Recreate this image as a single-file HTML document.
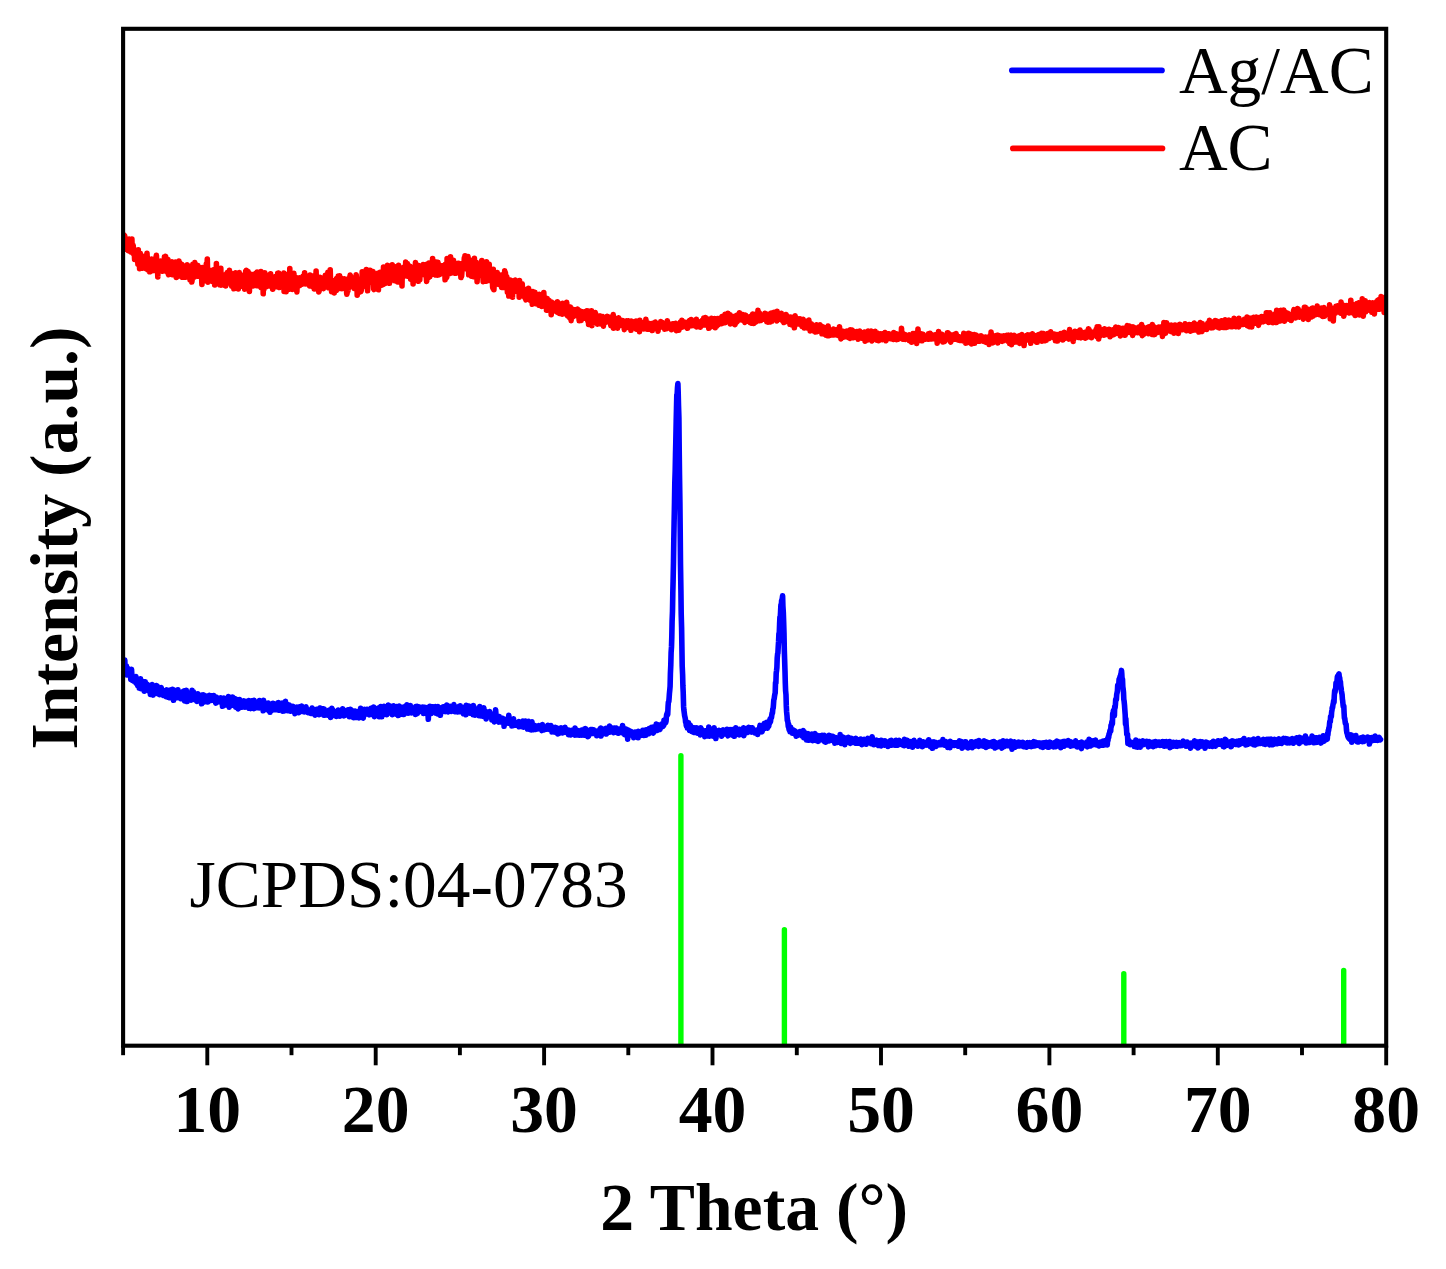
<!DOCTYPE html>
<html lang="en">
<head>
<meta charset="utf-8">
<title>XRD patterns of Ag/AC and AC</title>
<style>
html,body{margin:0;padding:0;background:#fff;}
body{width:1446px;height:1269px;overflow:hidden;}
svg{display:block;}
text{font-family:"Liberation Serif",serif;font-size:67.4px;fill:#000;}
.b text{font-weight:bold;font-size:67.7px;}
</style>
</head>
<body>
<svg width="1446" height="1269" viewBox="0 0 1446 1269">
<rect x="0" y="0" width="1446" height="1269" fill="#fff"/>
<g fill="none" stroke="#00ff00" stroke-width="5.4" stroke-linecap="round">
<path d="M680.9 1043.6V755.8"/><path d="M784.4 1043.6V929.8"/><path d="M1123.8 1043.6V973.7"/><path d="M1343.7 1043.6V970.4"/>
</g>
<defs><clipPath id="plotclip"><rect x="123.1" y="28.8" width="1263.1" height="1016.9"/></clipPath></defs>
<g clip-path="url(#plotclip)" fill="none" stroke-width="5.6" stroke-linejoin="round" stroke-linecap="round">
<path d="M123.1 237.0L123.4 239.3L123.8 237.3L124.1 235.0L124.4 238.0L124.8 236.1L125.1 242.0L125.5 249.1L125.8 240.6L126.1 240.6L126.5 246.8L126.8 246.7L127.1 246.0L127.5 241.4L127.8 246.4L128.2 250.6L128.5 240.9L128.8 245.8L129.2 239.1L129.5 242.6L129.8 240.2L130.2 248.6L130.5 243.9L130.8 252.0L131.2 251.8L131.5 250.4L131.9 239.1L132.2 249.3L132.5 252.1L132.9 253.2L133.2 245.3L133.5 250.9L133.9 248.7L134.2 249.9L134.6 259.5L134.9 250.5L135.2 254.6L135.6 259.5L135.9 252.5L136.2 255.1L136.6 256.5L136.9 256.6L137.2 250.4L137.6 257.3L137.9 264.0L138.3 249.7L138.6 262.1L138.9 258.6L139.3 255.1L139.6 268.6L139.9 262.7L140.3 253.2L140.6 259.8L141.0 262.6L141.3 259.1L141.6 263.7L142.0 260.2L142.3 264.1L142.6 268.2L143.0 257.9L143.3 262.5L143.6 259.4L144.0 262.6L144.3 256.2L144.7 259.4L145.0 261.5L145.3 267.2L145.7 268.6L146.0 256.4L146.3 259.2L146.7 266.5L147.0 253.4L147.4 261.2L147.7 263.1L148.0 270.0L148.4 267.3L148.7 262.3L149.0 262.2L149.4 262.8L149.7 271.8L150.0 262.1L150.4 262.8L150.7 266.2L151.1 263.9L151.4 263.6L151.7 259.1L152.1 264.7L152.4 262.6L152.7 270.7L153.1 268.2L153.4 264.9L153.8 268.4L154.1 263.4L154.4 270.4L154.8 265.2L155.1 268.2L155.4 258.9L155.8 267.1L156.1 257.0L156.4 255.3L156.8 264.0L157.1 261.1L157.5 266.5L157.8 276.9L158.1 261.6L158.5 262.7L158.8 266.9L159.1 268.4L159.5 265.1L159.8 265.0L160.2 269.5L160.5 268.7L160.8 261.0L161.2 265.8L161.5 266.4L161.8 261.0L162.2 267.6L162.5 262.1L162.8 271.3L163.2 267.4L163.5 267.0L163.9 263.6L164.2 266.0L164.5 256.7L164.9 261.1L165.2 268.6L165.5 256.2L165.9 271.2L166.2 258.3L166.6 270.8L166.9 262.9L167.2 271.1L167.6 267.9L167.9 259.6L168.2 273.6L168.6 274.7L168.9 267.2L169.2 266.2L169.6 266.9L169.9 262.9L170.3 273.3L170.6 265.2L170.9 267.7L171.3 264.1L171.6 265.0L171.9 261.8L172.3 274.6L172.6 267.6L173.0 273.2L173.3 268.6L173.6 265.1L174.0 267.0L174.3 265.9L174.6 268.8L175.0 267.0L175.3 267.5L175.6 262.1L176.0 265.1L176.3 277.5L176.7 265.9L177.0 264.1L177.3 271.1L177.7 276.5L178.0 262.3L178.3 268.6L178.7 266.6L179.0 261.0L179.4 273.6L179.7 269.9L180.0 270.4L180.4 266.4L180.7 272.5L181.0 267.6L181.4 269.7L181.7 264.9L182.0 264.5L182.4 277.3L182.7 268.2L183.1 272.2L183.4 270.7L183.7 268.7L184.1 268.5L184.4 274.2L184.7 269.6L185.1 270.5L185.4 271.4L185.7 277.3L186.1 274.9L186.4 273.4L186.8 268.8L187.1 264.8L187.4 276.5L187.8 276.7L188.1 271.2L188.4 274.7L188.8 275.9L189.1 276.3L189.5 276.8L189.8 270.0L190.1 279.9L190.5 266.1L190.8 276.7L191.1 275.0L191.5 276.9L191.8 282.0L192.1 280.1L192.5 267.0L192.8 264.4L193.2 277.0L193.5 267.9L193.8 272.9L194.2 277.3L194.5 264.9L194.8 262.6L195.2 274.5L195.5 273.5L195.9 272.1L196.2 273.6L196.5 269.2L196.9 266.0L197.2 272.8L197.5 268.8L197.9 265.5L198.2 276.3L198.5 273.5L198.9 275.9L199.2 269.0L199.6 270.7L199.9 269.1L200.2 269.7L200.6 275.2L200.9 270.3L201.2 276.1L201.6 276.1L201.9 284.5L202.3 267.5L202.6 279.0L202.9 274.1L203.3 274.6L203.6 267.5L203.9 272.5L204.3 278.5L204.6 274.5L204.9 275.3L205.3 273.5L205.6 280.8L206.0 275.0L206.3 264.1L206.6 271.7L207.0 265.4L207.3 259.1L207.6 272.7L208.0 282.1L208.3 275.7L208.7 269.7L209.0 270.9L209.3 281.3L209.7 276.5L210.0 276.0L210.3 275.5L210.7 276.0L211.0 279.9L211.3 278.7L211.7 277.1L212.0 270.8L212.4 278.6L212.7 272.7L213.0 281.7L213.4 269.9L213.7 275.6L214.0 276.3L214.4 269.8L214.7 285.0L215.1 283.8L215.4 274.2L215.7 280.4L216.1 278.5L216.4 263.6L216.7 278.0L217.1 276.5L217.4 277.2L217.7 271.5L218.1 275.6L218.4 276.1L218.8 282.9L219.1 278.7L219.4 277.0L219.8 284.8L220.1 274.4L220.4 275.3L220.8 268.2L221.1 285.1L221.5 282.2L221.8 282.0L222.1 280.8L222.5 278.0L222.8 278.6L223.1 276.3L223.5 276.6L223.8 277.9L224.1 285.2L224.5 280.5L224.8 277.4L225.2 274.9L225.5 274.6L225.8 285.9L226.2 280.4L226.5 278.3L226.8 276.2L227.2 272.5L227.5 277.7L227.9 282.4L228.2 276.2L228.5 277.0L228.9 277.1L229.2 278.8L229.5 270.3L229.9 277.1L230.2 274.1L230.5 282.8L230.9 274.6L231.2 281.3L231.6 286.1L231.9 277.0L232.2 275.5L232.6 279.5L232.9 278.6L233.2 273.7L233.6 281.0L233.9 288.8L234.3 277.5L234.6 277.8L234.9 273.6L235.3 280.5L235.6 272.7L235.9 273.4L236.3 285.4L236.6 274.5L236.9 284.4L237.3 286.7L237.6 280.4L238.0 281.9L238.3 288.9L238.6 278.2L239.0 276.3L239.3 272.5L239.6 279.5L240.0 286.7L240.3 284.2L240.7 274.7L241.0 275.2L241.3 276.9L241.7 281.0L242.0 278.5L242.3 280.6L242.7 281.1L243.0 278.1L243.3 279.4L243.7 280.7L244.0 279.3L244.4 282.3L244.7 289.1L245.0 282.8L245.4 280.1L245.7 271.4L246.0 281.8L246.4 270.2L246.7 272.9L247.1 284.2L247.4 283.5L247.7 279.3L248.1 271.5L248.4 278.2L248.7 276.7L249.1 283.3L249.4 291.5L249.7 281.3L250.1 276.3L250.4 274.4L250.8 280.0L251.1 279.4L251.4 274.6L251.8 280.9L252.1 274.6L252.4 286.0L252.8 285.7L253.1 285.9L253.5 278.1L253.8 283.1L254.1 279.9L254.5 278.6L254.8 278.9L255.1 274.1L255.5 273.4L255.8 284.6L256.1 279.7L256.5 281.8L256.8 285.7L257.2 272.1L257.5 276.9L257.8 281.7L258.2 282.8L258.5 279.0L258.8 286.0L259.2 281.9L259.5 274.8L259.9 276.3L260.2 285.0L260.5 283.3L260.9 271.5L261.2 287.8L261.5 284.0L261.9 287.8L262.2 279.2L262.5 279.6L262.9 275.5L263.2 293.8L263.6 280.3L263.9 289.1L264.2 278.0L264.6 282.0L264.9 272.9L265.2 279.3L265.6 286.2L265.9 275.0L266.3 286.7L266.6 283.0L266.9 276.1L267.3 278.9L267.6 279.1L267.9 281.2L268.3 278.8L268.6 277.3L268.9 280.0L269.3 276.4L269.6 275.1L270.0 281.3L270.3 286.0L270.6 273.9L271.0 281.6L271.3 278.4L271.6 276.7L272.0 285.9L272.3 279.1L272.7 289.1L273.0 277.8L273.3 283.6L273.7 280.6L274.0 278.0L274.3 284.7L274.7 281.0L275.0 284.8L275.3 281.6L275.7 276.4L276.0 281.3L276.4 282.1L276.7 286.6L277.0 277.4L277.4 281.7L277.7 273.4L278.0 285.2L278.4 276.6L278.7 273.0L279.1 281.7L279.4 287.5L279.7 274.4L280.1 276.6L280.4 278.3L280.7 276.4L281.1 283.9L281.4 278.1L281.7 278.5L282.1 285.0L282.4 278.4L282.8 284.3L283.1 277.3L283.4 276.2L283.8 273.1L284.1 291.4L284.4 280.6L284.8 283.4L285.1 282.1L285.5 283.0L285.8 282.5L286.1 291.7L286.5 277.2L286.8 274.6L287.1 277.3L287.5 275.7L287.8 286.0L288.1 286.4L288.5 277.6L288.8 275.5L289.2 280.7L289.5 289.3L289.8 268.5L290.2 285.0L290.5 277.2L290.8 287.6L291.2 277.2L291.5 281.1L291.9 275.1L292.2 277.7L292.5 289.4L292.9 286.6L293.2 280.6L293.5 278.3L293.9 273.3L294.2 280.7L294.5 282.5L294.9 282.2L295.2 282.2L295.6 277.2L295.9 282.4L296.2 282.5L296.6 289.1L296.9 291.9L297.2 282.1L297.6 279.0L297.9 282.5L298.2 279.8L298.6 279.2L298.9 282.5L299.3 277.7L299.6 285.8L299.9 282.4L300.3 284.1L300.6 282.0L300.9 279.3L301.3 278.3L301.6 281.8L302.0 280.3L302.3 284.1L302.6 283.0L303.0 276.3L303.3 283.3L303.6 276.4L304.0 280.0L304.3 281.6L304.6 272.9L305.0 283.5L305.3 283.8L305.7 282.3L306.0 281.0L306.3 281.3L306.7 278.3L307.0 281.8L307.3 280.4L307.7 283.6L308.0 277.3L308.4 284.3L308.7 283.9L309.0 282.5L309.4 281.1L309.7 285.9L310.0 275.1L310.4 285.5L310.7 284.4L311.0 284.6L311.4 285.1L311.7 280.1L312.1 282.0L312.4 286.4L312.7 285.4L313.1 284.3L313.4 275.9L313.7 285.9L314.1 289.0L314.4 288.3L314.8 284.5L315.1 275.7L315.4 287.9L315.8 282.6L316.1 271.0L316.4 285.2L316.8 276.1L317.1 277.0L317.4 280.3L317.8 289.6L318.1 281.6L318.5 284.7L318.8 291.9L319.1 291.2L319.5 282.9L319.8 282.2L320.1 277.2L320.5 280.0L320.8 285.5L321.2 285.3L321.5 283.9L321.8 288.2L322.2 279.6L322.5 283.1L322.8 287.0L323.2 286.2L323.5 288.6L323.8 285.3L324.2 281.9L324.5 285.2L324.9 278.5L325.2 275.4L325.5 286.2L325.9 283.1L326.2 284.9L326.5 275.1L326.9 281.6L327.2 280.5L327.6 279.2L327.9 272.4L328.2 281.8L328.6 287.8L328.9 285.2L329.2 280.5L329.6 283.3L329.9 287.1L330.2 269.9L330.6 282.8L330.9 286.0L331.3 286.7L331.6 291.7L331.9 288.9L332.3 284.9L332.6 284.8L332.9 287.2L333.3 280.7L333.6 283.2L334.0 287.8L334.3 292.9L334.6 282.6L335.0 283.1L335.3 284.3L335.6 289.9L336.0 283.2L336.3 290.5L336.6 278.6L337.0 282.4L337.3 282.4L337.7 287.2L338.0 288.4L338.3 276.0L338.7 278.9L339.0 285.0L339.3 280.1L339.7 275.9L340.0 288.4L340.4 285.7L340.7 285.7L341.0 281.0L341.4 288.3L341.7 282.1L342.0 288.6L342.4 278.8L342.7 279.1L343.0 284.3L343.4 279.8L343.7 286.6L344.1 284.5L344.4 278.8L344.7 283.6L345.1 281.5L345.4 287.7L345.7 280.2L346.1 281.1L346.4 289.2L346.8 294.2L347.1 293.0L347.4 283.5L347.8 284.3L348.1 290.7L348.4 282.6L348.8 278.4L349.1 283.8L349.4 285.4L349.8 279.1L350.1 275.1L350.5 276.1L350.8 286.4L351.1 279.4L351.5 282.4L351.8 284.1L352.1 286.1L352.5 281.4L352.8 285.5L353.2 278.6L353.5 281.2L353.8 277.9L354.2 288.5L354.5 282.8L354.8 279.2L355.2 281.1L355.5 281.7L355.8 286.2L356.2 274.9L356.5 277.6L356.9 280.8L357.2 295.1L357.5 287.3L357.9 282.0L358.2 286.0L358.5 292.6L358.9 281.2L359.2 280.5L359.6 288.3L359.9 284.7L360.2 285.5L360.6 279.6L360.9 291.6L361.2 290.5L361.6 284.8L361.9 285.3L362.2 271.8L362.6 285.0L362.9 280.8L363.3 283.8L363.6 285.0L363.9 279.9L364.3 273.1L364.6 283.3L364.9 277.7L365.3 279.7L365.6 278.2L366.0 279.5L366.3 269.6L366.6 287.2L367.0 282.3L367.3 286.5L367.6 290.8L368.0 280.9L368.3 271.8L368.6 276.2L369.0 274.6L369.3 278.1L369.7 280.9L370.0 270.4L370.3 282.1L370.7 272.8L371.0 281.8L371.3 279.7L371.7 278.6L372.0 279.7L372.4 277.3L372.7 276.9L373.0 271.5L373.4 279.6L373.7 288.9L374.0 289.5L374.4 286.2L374.7 283.0L375.0 276.0L375.4 286.5L375.7 278.9L376.1 278.8L376.4 277.6L376.7 279.4L377.1 276.6L377.4 278.3L377.7 273.2L378.1 276.7L378.4 289.8L378.8 278.0L379.1 277.0L379.4 280.8L379.8 281.5L380.1 272.3L380.4 276.8L380.8 282.3L381.1 278.9L381.4 278.1L381.8 285.2L382.1 273.9L382.5 277.6L382.8 274.5L383.1 284.4L383.5 267.1L383.8 273.4L384.1 274.0L384.5 279.9L384.8 279.5L385.2 283.4L385.5 268.4L385.8 280.0L386.2 274.7L386.5 272.7L386.8 278.6L387.2 271.3L387.5 265.4L387.8 273.9L388.2 268.1L388.5 272.3L388.9 277.3L389.2 277.0L389.5 283.3L389.9 274.3L390.2 267.5L390.5 271.4L390.9 270.5L391.2 268.9L391.6 277.1L391.9 271.7L392.2 264.9L392.6 278.2L392.9 274.1L393.2 276.4L393.6 275.1L393.9 277.7L394.2 274.6L394.6 280.6L394.9 276.5L395.3 276.2L395.6 276.3L395.9 266.9L396.3 273.3L396.6 272.8L396.9 275.0L397.3 267.1L397.6 282.0L398.0 274.3L398.3 267.7L398.6 265.2L399.0 272.3L399.3 273.2L399.6 270.0L400.0 274.0L400.3 270.2L400.6 276.2L401.0 269.7L401.3 273.1L401.7 278.1L402.0 286.0L402.3 268.1L402.7 270.8L403.0 268.8L403.3 276.9L403.7 267.2L404.0 270.5L404.4 272.7L404.7 267.9L405.0 268.0L405.4 270.3L405.7 262.1L406.0 265.4L406.4 270.5L406.7 273.2L407.0 271.5L407.4 263.5L407.7 270.0L408.1 276.3L408.4 275.0L408.7 271.8L409.1 267.7L409.4 275.3L409.7 269.2L410.1 266.2L410.4 268.0L410.7 279.2L411.1 273.0L411.4 277.6L411.8 269.4L412.1 276.4L412.4 268.7L412.8 270.9L413.1 284.0L413.4 275.4L413.8 269.0L414.1 271.0L414.5 273.0L414.8 277.4L415.1 268.9L415.5 262.6L415.8 269.8L416.1 271.3L416.5 271.7L416.8 277.7L417.1 272.6L417.5 275.1L417.8 265.4L418.2 275.2L418.5 281.3L418.8 274.7L419.2 272.0L419.5 271.5L419.8 279.6L420.2 266.0L420.5 270.0L420.9 272.9L421.2 274.2L421.5 268.3L421.9 272.0L422.2 269.0L422.5 270.9L422.9 269.6L423.2 264.6L423.5 270.1L423.9 274.6L424.2 265.3L424.6 268.9L424.9 273.4L425.2 264.7L425.6 270.9L425.9 264.6L426.2 275.6L426.6 281.4L426.9 279.9L427.3 268.7L427.6 273.5L427.9 270.3L428.3 270.2L428.6 277.4L428.9 263.0L429.3 274.9L429.6 269.3L429.9 276.6L430.3 270.4L430.6 266.1L431.0 270.8L431.3 273.1L431.6 269.5L432.0 271.8L432.3 266.7L432.6 258.6L433.0 273.8L433.3 272.7L433.7 269.9L434.0 269.5L434.3 274.3L434.7 266.8L435.0 265.6L435.3 268.1L435.7 275.0L436.0 262.1L436.3 275.0L436.7 265.8L437.0 263.4L437.4 275.2L437.7 268.4L438.0 262.4L438.4 267.1L438.7 273.5L439.0 274.8L439.4 266.7L439.7 270.8L440.1 272.3L440.4 265.5L440.7 270.5L441.1 268.5L441.4 266.0L441.7 266.2L442.1 269.0L442.4 268.8L442.7 265.8L443.1 266.5L443.4 274.1L443.8 269.6L444.1 273.0L444.4 274.5L444.8 271.5L445.1 279.8L445.4 264.3L445.8 272.5L446.1 266.9L446.5 277.7L446.8 276.9L447.1 258.6L447.5 263.5L447.8 271.7L448.1 272.3L448.5 272.0L448.8 267.9L449.1 270.6L449.5 271.5L449.8 267.9L450.2 273.4L450.5 256.9L450.8 271.4L451.2 263.0L451.5 273.0L451.8 267.0L452.2 263.7L452.5 270.0L452.9 263.5L453.2 263.5L453.5 260.2L453.9 267.9L454.2 270.5L454.5 273.1L454.9 267.2L455.2 273.2L455.5 268.0L455.9 267.4L456.2 270.7L456.6 273.1L456.9 266.1L457.2 266.6L457.6 267.0L457.9 268.2L458.2 263.2L458.6 272.8L458.9 265.7L459.3 269.9L459.6 263.5L459.9 269.4L460.3 269.5L460.6 265.4L460.9 277.5L461.3 269.2L461.6 276.2L461.9 272.1L462.3 263.9L462.6 265.3L463.0 269.3L463.3 267.4L463.6 267.3L464.0 265.6L464.3 258.0L464.6 265.8L465.0 255.8L465.3 268.8L465.7 263.2L466.0 263.3L466.3 265.7L466.7 268.2L467.0 259.6L467.3 258.1L467.7 261.5L468.0 256.6L468.3 262.0L468.7 274.8L469.0 261.6L469.4 270.2L469.7 260.1L470.0 268.5L470.4 265.5L470.7 266.9L471.0 270.1L471.4 276.1L471.7 268.4L472.1 268.1L472.4 262.7L472.7 270.6L473.1 266.6L473.4 272.1L473.7 267.8L474.1 276.8L474.4 258.3L474.7 266.9L475.1 272.9L475.4 266.9L475.8 264.8L476.1 267.6L476.4 262.2L476.8 269.8L477.1 281.6L477.4 275.2L477.8 264.1L478.1 265.5L478.5 268.0L478.8 275.2L479.1 266.2L479.5 267.0L479.8 275.1L480.1 275.1L480.5 269.1L480.8 265.6L481.1 263.6L481.5 268.0L481.8 260.5L482.2 275.6L482.5 268.8L482.8 274.5L483.2 281.7L483.5 278.3L483.8 266.9L484.2 277.1L484.5 278.7L484.9 269.4L485.2 268.5L485.5 272.9L485.9 265.6L486.2 281.1L486.5 261.9L486.9 268.5L487.2 272.8L487.5 273.2L487.9 275.3L488.2 275.9L488.6 273.7L488.9 280.5L489.2 264.3L489.6 275.1L489.9 271.7L490.2 276.1L490.6 276.7L490.9 271.2L491.3 272.7L491.6 280.0L491.9 277.9L492.3 272.9L492.6 286.7L492.9 288.2L493.3 269.4L493.6 278.4L493.9 289.6L494.3 281.1L494.6 278.5L495.0 276.5L495.3 275.0L495.6 276.8L496.0 275.2L496.3 281.8L496.6 276.3L497.0 276.2L497.3 272.6L497.7 278.5L498.0 274.4L498.3 278.2L498.7 284.4L499.0 281.2L499.3 282.1L499.7 281.5L500.0 280.1L500.3 279.4L500.7 278.6L501.0 284.1L501.4 275.1L501.7 287.4L502.0 281.0L502.4 277.2L502.7 278.7L503.0 277.9L503.4 282.3L503.7 278.1L504.1 287.5L504.4 278.1L504.7 270.9L505.1 278.7L505.4 272.5L505.7 282.4L506.1 288.0L506.4 286.1L506.7 276.6L507.1 279.6L507.4 292.1L507.8 285.2L508.1 283.8L508.4 289.1L508.8 296.0L509.1 290.6L509.4 285.2L509.8 286.4L510.1 287.8L510.5 282.1L510.8 280.2L511.1 285.7L511.5 281.1L511.8 285.5L512.1 286.4L512.5 297.2L512.8 282.4L513.1 286.0L513.5 286.0L513.8 289.0L514.2 292.0L514.5 285.0L514.8 283.7L515.2 280.1L515.5 283.6L515.8 290.6L516.2 288.5L516.5 283.9L516.9 287.0L517.2 289.0L517.5 291.4L517.9 286.6L518.2 288.4L518.5 281.5L518.9 284.7L519.2 297.3L519.5 280.5L519.9 289.0L520.2 291.6L520.6 289.2L520.9 287.5L521.2 291.0L521.6 291.4L521.9 291.3L522.2 283.7L522.6 291.4L522.9 288.5L523.3 290.1L523.6 293.6L523.9 295.6L524.3 296.8L524.6 291.1L524.9 297.3L525.3 298.5L525.6 298.6L525.9 299.8L526.3 293.5L526.6 293.6L527.0 297.9L527.3 289.0L527.6 295.7L528.0 292.8L528.3 293.7L528.6 288.2L529.0 291.9L529.3 295.6L529.6 299.5L530.0 300.1L530.3 295.9L530.7 295.6L531.0 293.2L531.3 298.3L531.7 295.9L532.0 299.5L532.3 304.2L532.7 297.2L533.0 291.5L533.4 294.2L533.7 292.0L534.0 293.2L534.4 303.2L534.7 299.1L535.0 292.3L535.4 301.1L535.7 303.6L536.0 297.4L536.4 296.3L536.7 297.7L537.1 300.3L537.4 301.8L537.7 304.1L538.1 304.3L538.4 304.3L538.7 305.1L539.1 302.5L539.4 294.3L539.8 299.8L540.1 301.6L540.4 299.1L540.8 304.1L541.1 299.4L541.4 297.4L541.8 306.5L542.1 303.7L542.4 302.1L542.8 304.9L543.1 305.5L543.5 303.0L543.8 292.6L544.1 299.4L544.5 300.4L544.8 298.5L545.1 303.0L545.5 306.8L545.8 300.8L546.2 298.5L546.5 310.3L546.8 301.3L547.2 298.5L547.5 304.0L547.8 304.8L548.2 300.9L548.5 306.4L548.8 301.9L549.2 300.5L549.5 304.6L549.9 306.8L550.2 301.9L550.5 305.5L550.9 304.1L551.2 314.6L551.5 302.1L551.9 309.7L552.2 304.7L552.6 304.6L552.9 307.7L553.2 308.4L553.6 309.9L553.9 306.7L554.2 303.6L554.6 303.9L554.9 307.7L555.2 308.1L555.6 311.0L555.9 307.8L556.3 310.1L556.6 311.8L556.9 307.3L557.3 301.7L557.6 302.9L557.9 302.2L558.3 312.6L558.6 304.5L559.0 311.7L559.3 309.6L559.6 313.5L560.0 311.3L560.3 307.7L560.6 307.5L561.0 308.6L561.3 309.0L561.6 306.8L562.0 308.6L562.3 314.2L562.7 303.4L563.0 310.0L563.3 306.3L563.7 310.0L564.0 312.3L564.3 309.5L564.7 312.3L565.0 304.8L565.4 313.6L565.7 308.3L566.0 312.3L566.4 311.1L566.7 302.4L567.0 308.3L567.4 311.6L567.7 315.9L568.0 312.0L568.4 312.1L568.7 307.0L569.1 316.0L569.4 317.3L569.7 311.9L570.1 311.2L570.4 307.0L570.7 314.9L571.1 320.6L571.4 314.6L571.8 316.4L572.1 314.3L572.4 309.8L572.8 317.0L573.1 309.3L573.4 312.5L573.8 314.1L574.1 316.0L574.4 314.7L574.8 314.7L575.1 311.4L575.5 309.9L575.8 314.1L576.1 311.9L576.5 310.2L576.8 310.5L577.1 312.9L577.5 309.0L577.8 310.6L578.2 309.8L578.5 315.3L578.8 316.0L579.2 320.8L579.5 310.6L579.8 313.1L580.2 317.8L580.5 314.6L580.8 314.4L581.2 320.4L581.5 314.6L581.9 312.3L582.2 311.9L582.5 316.7L582.9 316.7L583.2 312.0L583.5 313.2L583.9 317.6L584.2 317.8L584.6 314.4L584.9 318.1L585.2 318.1L585.6 311.5L585.9 315.7L586.2 317.8L586.6 315.1L586.9 310.8L587.2 316.1L587.6 319.1L587.9 321.5L588.3 311.0L588.6 324.5L588.9 314.1L589.3 320.0L589.6 320.8L589.9 320.2L590.3 318.0L590.6 314.4L591.0 319.4L591.3 315.8L591.6 310.9L592.0 325.7L592.3 319.9L592.6 323.0L593.0 315.6L593.3 322.2L593.6 322.6L594.0 322.5L594.3 318.3L594.7 315.2L595.0 318.0L595.3 312.6L595.7 314.1L596.0 319.0L596.3 316.1L596.7 318.4L597.0 318.6L597.4 324.1L597.7 322.5L598.0 319.0L598.4 322.4L598.7 317.1L599.0 318.4L599.4 321.7L599.7 316.1L600.0 318.7L600.4 316.0L600.7 319.9L601.1 323.9L601.4 317.7L601.7 320.3L602.1 317.5L602.4 316.9L602.7 316.7L603.1 323.8L603.4 326.2L603.8 321.3L604.1 318.3L604.4 322.0L604.8 319.4L605.1 322.4L605.4 321.1L605.8 321.2L606.1 322.1L606.4 319.0L606.8 319.6L607.1 316.2L607.5 319.6L607.8 317.1L608.1 320.4L608.5 318.4L608.8 321.2L609.1 322.1L609.5 317.4L609.8 319.0L610.2 318.7L610.5 323.1L610.8 325.6L611.2 323.5L611.5 320.5L611.8 325.1L612.2 317.6L612.5 325.3L612.8 319.9L613.2 314.6L613.5 328.3L613.9 325.7L614.2 319.2L614.5 322.2L614.9 321.3L615.2 322.2L615.5 318.3L615.9 320.3L616.2 323.2L616.6 322.7L616.9 325.1L617.2 322.4L617.6 328.1L617.9 320.5L618.2 323.0L618.6 317.7L618.9 319.4L619.2 325.8L619.6 320.2L619.9 323.9L620.3 322.5L620.6 320.1L620.9 321.9L621.3 321.5L621.6 321.6L621.9 324.7L622.3 324.5L622.6 321.5L623.0 320.8L623.3 323.7L623.6 322.8L624.0 325.6L624.3 329.6L624.6 325.2L625.0 323.1L625.3 322.9L625.6 321.2L626.0 321.2L626.3 321.0L626.7 322.5L627.0 322.4L627.3 325.3L627.7 322.6L628.0 323.1L628.3 320.7L628.7 327.6L629.0 324.9L629.4 328.0L629.7 325.6L630.0 327.3L630.4 323.2L630.7 325.5L631.0 330.3L631.4 321.0L631.7 326.7L632.0 328.0L632.4 325.0L632.7 325.9L633.1 327.1L633.4 322.5L633.7 325.1L634.1 322.1L634.4 322.6L634.7 322.8L635.1 324.0L635.4 324.7L635.8 325.5L636.1 321.0L636.4 329.2L636.8 327.2L637.1 326.3L637.4 323.7L637.8 324.4L638.1 325.9L638.4 325.6L638.8 320.7L639.1 326.5L639.5 331.7L639.8 320.4L640.1 327.2L640.5 325.7L640.8 324.6L641.1 328.2L641.5 322.2L641.8 325.4L642.1 328.5L642.5 324.6L642.8 324.1L643.2 325.4L643.5 324.1L643.8 328.9L644.2 323.1L644.5 327.3L644.8 322.3L645.2 326.9L645.5 325.1L645.9 319.3L646.2 325.4L646.5 322.9L646.9 324.4L647.2 329.1L647.5 322.9L647.9 323.1L648.2 329.0L648.5 325.9L648.9 329.3L649.2 326.4L649.6 323.6L649.9 325.6L650.2 328.7L650.6 328.0L650.9 325.8L651.2 325.9L651.6 325.6L651.9 324.5L652.3 330.5L652.6 325.9L652.9 323.3L653.3 324.8L653.6 327.7L653.9 327.5L654.3 325.7L654.6 324.4L654.9 326.1L655.3 322.1L655.6 323.0L656.0 328.0L656.3 325.0L656.6 327.0L657.0 329.0L657.3 327.7L657.6 326.2L658.0 331.2L658.3 327.7L658.7 325.3L659.0 327.9L659.3 327.1L659.7 324.2L660.0 326.4L660.3 325.8L660.7 321.5L661.0 325.8L661.3 325.5L661.7 325.2L662.0 322.3L662.4 325.4L662.7 326.1L663.0 326.4L663.4 323.5L663.7 327.7L664.0 323.3L664.4 325.6L664.7 329.3L665.1 324.5L665.4 324.9L665.7 328.7L666.1 325.2L666.4 325.4L666.7 326.6L667.1 328.6L667.4 320.9L667.7 324.1L668.1 323.7L668.4 323.5L668.8 324.0L669.1 324.0L669.4 326.7L669.8 323.9L670.1 326.3L670.4 326.9L670.8 324.2L671.1 326.2L671.5 329.8L671.8 326.7L672.1 324.4L672.5 325.7L672.8 323.7L673.1 326.5L673.5 327.8L673.8 323.9L674.1 325.3L674.5 328.4L674.8 324.6L675.2 326.1L675.5 323.3L675.8 323.7L676.2 324.4L676.5 330.6L676.8 324.7L677.2 324.3L677.5 324.3L677.9 325.1L678.2 327.0L678.5 325.9L678.9 330.2L679.2 325.9L679.5 328.7L679.9 326.0L680.2 326.7L680.5 322.0L680.9 325.0L681.2 325.1L681.6 324.7L681.9 320.3L682.2 327.2L682.6 324.3L682.9 324.1L683.2 324.5L683.6 324.6L683.9 326.0L684.3 322.1L684.6 322.9L684.9 325.7L685.3 325.3L685.6 324.1L685.9 323.6L686.3 323.0L686.6 324.7L686.9 327.6L687.3 322.4L687.6 328.3L688.0 326.7L688.3 323.7L688.6 326.5L689.0 321.3L689.3 320.7L689.6 321.7L690.0 323.7L690.3 323.8L690.7 323.4L691.0 324.8L691.3 319.6L691.7 325.7L692.0 321.2L692.3 322.9L692.7 323.5L693.0 321.7L693.3 321.2L693.7 322.0L694.0 324.3L694.4 325.7L694.7 325.6L695.0 321.9L695.4 322.3L695.7 322.0L696.0 325.2L696.4 319.3L696.7 327.0L697.1 322.9L697.4 322.2L697.7 324.8L698.1 326.4L698.4 324.7L698.7 326.4L699.1 324.2L699.4 326.8L699.7 326.8L700.1 323.5L700.4 327.2L700.8 324.1L701.1 323.9L701.4 321.4L701.8 322.9L702.1 325.4L702.4 320.4L702.8 325.1L703.1 324.3L703.5 324.1L703.8 318.1L704.1 323.1L704.5 324.9L704.8 321.4L705.1 323.5L705.5 317.5L705.8 324.8L706.1 321.5L706.5 325.2L706.8 318.6L707.2 324.7L707.5 322.4L707.8 324.9L708.2 320.7L708.5 321.4L708.8 328.3L709.2 320.8L709.5 321.0L709.9 322.0L710.2 320.2L710.5 325.5L710.9 326.8L711.2 320.8L711.5 318.3L711.9 325.3L712.2 325.1L712.5 324.4L712.9 325.2L713.2 320.1L713.6 321.8L713.9 318.8L714.2 318.6L714.6 324.5L714.9 320.4L715.2 327.7L715.6 322.1L715.9 320.3L716.3 323.8L716.6 326.3L716.9 322.9L717.3 318.6L717.6 322.5L717.9 325.0L718.3 320.2L718.6 319.4L718.9 323.9L719.3 321.6L719.6 318.4L720.0 320.1L720.3 319.1L720.6 321.7L721.0 321.2L721.3 323.7L721.6 322.5L722.0 316.6L722.3 321.6L722.7 322.8L723.0 321.6L723.3 323.0L723.7 318.9L724.0 317.7L724.3 322.5L724.7 317.3L725.0 314.3L725.3 322.6L725.7 317.9L726.0 319.0L726.4 316.0L726.7 316.1L727.0 316.5L727.4 318.5L727.7 320.4L728.0 313.3L728.4 321.3L728.7 316.1L729.1 316.3L729.4 320.9L729.7 318.9L730.1 314.9L730.4 323.9L730.7 316.6L731.1 319.5L731.4 319.4L731.7 322.6L732.1 317.5L732.4 321.4L732.8 316.7L733.1 321.7L733.4 316.6L733.8 317.6L734.1 323.7L734.4 319.4L734.8 318.8L735.1 324.6L735.5 319.5L735.8 316.3L736.1 320.5L736.5 315.3L736.8 321.5L737.1 321.7L737.5 316.9L737.8 316.7L738.1 318.9L738.5 318.4L738.8 315.7L739.2 319.9L739.5 312.8L739.8 317.2L740.2 317.2L740.5 317.6L740.8 319.1L741.2 315.0L741.5 319.9L741.9 317.8L742.2 316.5L742.5 314.5L742.9 315.0L743.2 319.2L743.5 315.6L743.9 318.4L744.2 321.1L744.5 321.0L744.9 322.4L745.2 317.4L745.6 315.2L745.9 320.9L746.2 319.0L746.6 321.2L746.9 318.1L747.2 321.3L747.6 320.4L747.9 320.0L748.3 319.4L748.6 319.1L748.9 318.6L749.3 318.6L749.6 320.7L749.9 316.5L750.3 322.6L750.6 317.6L750.9 320.5L751.3 317.5L751.6 317.1L752.0 323.3L752.3 316.8L752.6 314.1L753.0 315.6L753.3 316.7L753.6 323.5L754.0 318.0L754.3 320.0L754.7 314.6L755.0 318.3L755.3 319.1L755.7 322.2L756.0 315.2L756.3 318.8L756.7 317.9L757.0 314.2L757.3 316.9L757.7 316.2L758.0 310.3L758.4 318.5L758.7 318.3L759.0 315.5L759.4 312.9L759.7 320.8L760.0 317.3L760.4 319.4L760.7 320.5L761.0 314.9L761.4 318.7L761.7 315.6L762.1 316.1L762.4 316.0L762.7 316.2L763.1 319.3L763.4 316.5L763.7 315.6L764.1 315.3L764.4 317.0L764.8 313.4L765.1 314.5L765.4 315.8L765.8 314.3L766.1 315.5L766.4 314.1L766.8 321.6L767.1 319.6L767.4 317.1L767.8 315.7L768.1 322.1L768.5 316.7L768.8 315.6L769.1 316.7L769.5 316.7L769.8 319.9L770.1 315.8L770.5 321.9L770.8 313.3L771.2 317.9L771.5 313.1L771.8 321.2L772.2 315.0L772.5 315.9L772.8 318.7L773.2 319.7L773.5 313.0L773.8 315.2L774.2 312.3L774.5 316.7L774.9 316.1L775.2 315.4L775.5 314.5L775.9 315.4L776.2 314.5L776.5 318.2L776.9 321.0L777.2 311.4L777.6 316.5L777.9 315.8L778.2 318.4L778.6 314.4L778.9 316.7L779.2 314.3L779.6 319.2L779.9 317.7L780.2 317.0L780.6 318.6L780.9 316.9L781.3 313.4L781.6 319.4L781.9 318.6L782.3 317.5L782.6 320.7L782.9 321.4L783.3 315.2L783.6 316.1L784.0 322.5L784.3 322.2L784.6 316.5L785.0 315.4L785.3 316.9L785.6 317.4L786.0 314.5L786.3 318.9L786.6 315.5L787.0 315.8L787.3 321.5L787.7 317.3L788.0 319.0L788.3 321.0L788.7 321.5L789.0 318.6L789.3 319.7L789.7 317.5L790.0 324.3L790.4 321.5L790.7 317.0L791.0 320.0L791.4 321.9L791.7 321.4L792.0 325.0L792.4 323.9L792.7 319.1L793.0 320.3L793.4 317.3L793.7 321.4L794.1 321.2L794.4 327.8L794.7 321.3L795.1 315.8L795.4 319.5L795.7 321.6L796.1 318.3L796.4 319.3L796.8 320.7L797.1 322.6L797.4 321.4L797.8 319.7L798.1 324.0L798.4 320.8L798.8 321.0L799.1 318.9L799.4 320.5L799.8 324.2L800.1 318.7L800.5 322.6L800.8 324.6L801.1 322.1L801.5 323.7L801.8 320.5L802.1 326.4L802.5 326.0L802.8 324.1L803.2 319.4L803.5 321.2L803.8 326.1L804.2 328.0L804.5 324.7L804.8 327.1L805.2 322.8L805.5 323.9L805.8 324.5L806.2 325.6L806.5 321.2L806.9 327.0L807.2 328.0L807.5 322.4L807.9 322.1L808.2 326.1L808.5 323.9L808.9 320.1L809.2 327.5L809.6 326.1L809.9 324.8L810.2 330.9L810.6 326.4L810.9 324.5L811.2 326.6L811.6 324.1L811.9 324.8L812.2 327.6L812.6 325.5L812.9 325.9L813.3 330.9L813.6 329.1L813.9 329.1L814.3 328.5L814.6 328.5L814.9 330.9L815.3 327.6L815.6 332.0L816.0 325.6L816.3 327.3L816.6 324.8L817.0 327.3L817.3 329.4L817.6 331.6L818.0 326.8L818.3 328.5L818.6 327.7L819.0 326.9L819.3 326.0L819.7 329.0L820.0 324.9L820.3 329.3L820.7 329.2L821.0 327.7L821.3 327.0L821.7 326.2L822.0 333.8L822.4 326.5L822.7 333.2L823.0 331.1L823.4 329.0L823.7 327.3L824.0 332.4L824.4 334.1L824.7 328.0L825.0 329.6L825.4 332.8L825.7 331.2L826.1 335.1L826.4 329.3L826.7 332.0L827.1 327.9L827.4 335.7L827.7 329.3L828.1 326.0L828.4 330.8L828.8 330.9L829.1 335.7L829.4 330.6L829.8 331.4L830.1 332.9L830.4 335.2L830.8 331.5L831.1 334.1L831.4 333.0L831.8 331.2L832.1 332.1L832.5 332.1L832.8 330.0L833.1 334.9L833.5 329.0L833.8 335.0L834.1 334.5L834.5 332.2L834.8 330.7L835.2 332.0L835.5 333.7L835.8 334.3L836.2 333.4L836.5 335.0L836.8 331.5L837.2 333.4L837.5 329.3L837.8 334.7L838.2 333.3L838.5 332.1L838.9 335.8L839.2 334.7L839.5 326.7L839.9 333.3L840.2 329.9L840.5 335.7L840.9 339.0L841.2 332.2L841.6 333.6L841.9 332.9L842.2 334.3L842.6 335.0L842.9 336.5L843.2 331.3L843.6 337.2L843.9 331.5L844.2 334.3L844.6 336.4L844.9 335.4L845.3 331.6L845.6 332.2L845.9 332.8L846.3 333.8L846.6 336.6L846.9 331.0L847.3 335.1L847.6 335.4L848.0 335.3L848.3 335.1L848.6 337.6L849.0 335.3L849.3 336.1L849.6 335.5L850.0 338.4L850.3 329.9L850.6 337.2L851.0 333.7L851.3 333.7L851.7 332.1L852.0 330.1L852.3 333.6L852.7 332.9L853.0 335.6L853.3 331.1L853.7 337.8L854.0 335.2L854.4 334.0L854.7 333.0L855.0 332.8L855.4 332.1L855.7 333.4L856.0 334.7L856.4 334.3L856.7 331.5L857.0 334.2L857.4 332.8L857.7 335.2L858.1 339.2L858.4 336.3L858.7 334.2L859.1 331.2L859.4 331.7L859.7 331.1L860.1 336.7L860.4 333.3L860.8 335.2L861.1 333.6L861.4 335.3L861.8 338.3L862.1 333.6L862.4 334.4L862.8 333.3L863.1 337.2L863.4 332.9L863.8 332.6L864.1 332.1L864.5 332.0L864.8 336.4L865.1 341.2L865.5 333.1L865.8 337.6L866.1 336.0L866.5 332.9L866.8 334.8L867.2 334.9L867.5 333.9L867.8 339.9L868.2 331.1L868.5 336.4L868.8 336.3L869.2 334.2L869.5 335.9L869.8 337.6L870.2 335.9L870.5 336.6L870.9 337.2L871.2 331.0L871.5 339.1L871.9 340.9L872.2 337.9L872.5 338.0L872.9 332.5L873.2 335.5L873.5 333.9L873.9 334.4L874.2 338.0L874.6 333.9L874.9 335.5L875.2 331.4L875.6 335.5L875.9 336.1L876.2 334.2L876.6 334.2L876.9 340.2L877.3 333.1L877.6 333.5L877.9 334.1L878.3 338.7L878.6 340.8L878.9 336.7L879.3 334.3L879.6 335.0L879.9 338.5L880.3 333.9L880.6 339.4L881.0 339.3L881.3 336.2L881.6 337.6L882.0 337.8L882.3 339.7L882.6 333.7L883.0 338.8L883.3 335.3L883.7 334.4L884.0 336.4L884.3 335.7L884.7 333.9L885.0 332.5L885.3 334.0L885.7 339.5L886.0 340.7L886.3 337.7L886.7 339.0L887.0 335.0L887.4 336.1L887.7 336.9L888.0 333.8L888.4 334.0L888.7 336.5L889.0 335.6L889.4 333.9L889.7 337.2L890.1 335.7L890.4 338.7L890.7 336.3L891.1 335.7L891.4 336.7L891.7 336.0L892.1 334.8L892.4 335.5L892.7 338.1L893.1 337.9L893.4 339.4L893.8 332.5L894.1 335.5L894.4 335.5L894.8 336.8L895.1 335.4L895.4 335.3L895.8 338.3L896.1 336.9L896.5 333.8L896.8 339.6L897.1 338.8L897.5 335.2L897.8 338.4L898.1 334.8L898.5 339.1L898.8 336.0L899.1 334.7L899.5 335.7L899.8 334.8L900.2 337.0L900.5 337.0L900.8 336.7L901.2 335.3L901.5 328.2L901.8 336.8L902.2 332.3L902.5 337.2L902.9 339.2L903.2 337.3L903.5 335.8L903.9 336.2L904.2 336.4L904.5 335.4L904.9 335.3L905.2 334.6L905.5 339.4L905.9 336.7L906.2 338.9L906.6 336.1L906.9 336.9L907.2 336.3L907.6 337.8L907.9 338.6L908.2 337.3L908.6 335.2L908.9 335.0L909.3 340.6L909.6 336.1L909.9 336.1L910.3 340.2L910.6 339.3L910.9 338.0L911.3 335.9L911.6 342.2L911.9 337.7L912.3 338.1L912.6 336.5L913.0 333.6L913.3 333.8L913.6 337.8L914.0 337.8L914.3 336.3L914.6 334.2L915.0 333.6L915.3 336.2L915.7 333.6L916.0 339.0L916.3 339.6L916.7 343.5L917.0 339.0L917.3 335.6L917.7 335.0L918.0 329.0L918.3 335.6L918.7 336.6L919.0 339.2L919.4 338.4L919.7 338.4L920.0 337.5L920.4 338.6L920.7 340.4L921.0 334.6L921.4 336.0L921.7 333.9L922.1 340.8L922.4 340.1L922.7 338.8L923.1 334.3L923.4 337.5L923.7 336.6L924.1 337.3L924.4 336.7L924.7 338.3L925.1 336.2L925.4 339.1L925.8 337.7L926.1 336.5L926.4 336.9L926.8 336.2L927.1 339.0L927.4 336.6L927.8 337.9L928.1 336.3L928.5 333.8L928.8 339.3L929.1 334.8L929.5 338.8L929.8 338.2L930.1 333.4L930.5 335.1L930.8 336.1L931.1 335.4L931.5 334.5L931.8 339.0L932.2 336.7L932.5 338.2L932.8 336.3L933.2 338.0L933.5 335.6L933.8 337.2L934.2 338.6L934.5 337.4L934.9 336.3L935.2 334.8L935.5 337.7L935.9 338.1L936.2 336.8L936.5 335.6L936.9 338.6L937.2 343.1L937.5 336.7L937.9 338.2L938.2 338.3L938.6 331.5L938.9 337.7L939.2 335.8L939.6 340.6L939.9 336.8L940.2 335.6L940.6 336.9L940.9 337.8L941.3 336.2L941.6 337.3L941.9 334.4L942.3 337.0L942.6 339.3L942.9 342.0L943.3 339.1L943.6 338.1L943.9 340.2L944.3 339.9L944.6 341.4L945.0 340.0L945.3 337.3L945.6 338.1L946.0 338.0L946.3 338.3L946.6 338.0L947.0 335.8L947.3 332.8L947.7 336.1L948.0 332.9L948.3 337.8L948.7 337.6L949.0 333.8L949.3 339.2L949.7 339.6L950.0 337.9L950.3 341.5L950.7 342.0L951.0 334.9L951.4 340.1L951.7 338.7L952.0 338.7L952.4 339.9L952.7 336.1L953.0 336.4L953.4 335.8L953.7 336.0L954.1 337.5L954.4 334.4L954.7 335.4L955.1 339.1L955.4 337.6L955.7 338.7L956.1 333.5L956.4 336.0L956.7 336.6L957.1 337.9L957.4 336.5L957.8 340.0L958.1 337.8L958.4 338.0L958.8 338.0L959.1 339.6L959.4 336.9L959.8 340.5L960.1 339.0L960.5 338.3L960.8 338.1L961.1 339.2L961.5 340.4L961.8 340.2L962.1 338.9L962.5 340.1L962.8 338.4L963.1 341.0L963.5 338.1L963.8 333.4L964.2 341.2L964.5 338.4L964.8 335.5L965.2 337.7L965.5 336.2L965.8 343.1L966.2 339.4L966.5 334.6L966.9 339.5L967.2 337.4L967.5 342.7L967.9 335.9L968.2 333.2L968.5 338.5L968.9 337.6L969.2 337.4L969.5 333.5L969.9 339.4L970.2 342.3L970.6 334.0L970.9 341.1L971.2 337.1L971.6 343.9L971.9 339.5L972.2 338.1L972.6 341.0L972.9 339.7L973.3 337.2L973.6 340.2L973.9 337.4L974.3 334.5L974.6 343.3L974.9 337.8L975.3 337.2L975.6 339.4L975.9 335.0L976.3 335.5L976.6 337.5L977.0 337.5L977.3 338.8L977.6 341.3L978.0 337.6L978.3 339.8L978.6 340.1L979.0 336.2L979.3 339.3L979.7 336.6L980.0 341.2L980.3 339.8L980.7 338.8L981.0 335.7L981.3 339.1L981.7 337.0L982.0 340.4L982.3 338.5L982.7 337.0L983.0 341.0L983.4 340.5L983.7 337.5L984.0 341.5L984.4 338.2L984.7 338.2L985.0 339.2L985.4 337.1L985.7 337.9L986.0 338.5L986.4 342.4L986.7 342.3L987.1 338.3L987.4 342.6L987.7 338.8L988.1 339.8L988.4 340.9L988.7 339.6L989.1 344.5L989.4 339.5L989.8 336.1L990.1 341.9L990.4 338.0L990.8 338.2L991.1 332.0L991.4 341.2L991.8 340.8L992.1 340.7L992.4 341.1L992.8 342.8L993.1 338.8L993.5 341.0L993.8 337.2L994.1 338.1L994.5 341.3L994.8 339.8L995.1 335.8L995.5 339.7L995.8 338.4L996.2 337.0L996.5 339.9L996.8 337.9L997.2 335.2L997.5 336.3L997.8 342.9L998.2 335.4L998.5 339.4L998.8 340.2L999.2 340.3L999.5 336.0L999.9 338.1L1000.2 339.1L1000.5 340.7L1000.9 337.3L1001.2 336.1L1001.5 341.1L1001.9 341.3L1002.2 339.6L1002.6 337.4L1002.9 339.7L1003.2 339.0L1003.6 340.7L1003.9 335.9L1004.2 339.0L1004.6 338.4L1004.9 336.2L1005.2 339.2L1005.6 338.8L1005.9 337.8L1006.3 339.6L1006.6 335.4L1006.9 338.6L1007.3 339.7L1007.6 339.3L1007.9 341.2L1008.3 335.9L1008.6 335.2L1009.0 339.2L1009.3 339.7L1009.6 343.5L1010.0 340.1L1010.3 336.6L1010.6 340.5L1011.0 336.7L1011.3 335.2L1011.6 344.6L1012.0 339.3L1012.3 340.2L1012.7 339.9L1013.0 342.7L1013.3 339.2L1013.7 341.4L1014.0 336.2L1014.3 335.3L1014.7 341.8L1015.0 341.9L1015.4 339.7L1015.7 339.0L1016.0 338.9L1016.4 336.9L1016.7 342.0L1017.0 340.0L1017.4 339.6L1017.7 339.3L1018.0 340.8L1018.4 339.6L1018.7 340.1L1019.1 335.7L1019.4 339.6L1019.7 343.4L1020.1 337.2L1020.4 338.1L1020.7 340.4L1021.1 340.6L1021.4 339.8L1021.8 334.6L1022.1 339.5L1022.4 335.6L1022.8 336.4L1023.1 339.6L1023.4 337.6L1023.8 340.1L1024.1 345.5L1024.4 340.0L1024.8 339.9L1025.1 336.2L1025.5 336.8L1025.8 335.8L1026.1 337.0L1026.5 335.7L1026.8 336.7L1027.1 337.7L1027.5 335.9L1027.8 334.9L1028.2 335.0L1028.5 339.2L1028.8 338.3L1029.2 340.5L1029.5 340.5L1029.8 337.3L1030.2 339.6L1030.5 334.7L1030.8 343.3L1031.2 340.8L1031.5 337.5L1031.9 335.3L1032.2 338.9L1032.5 333.7L1032.9 336.2L1033.2 339.7L1033.5 338.1L1033.9 336.8L1034.2 340.1L1034.6 335.5L1034.9 338.5L1035.2 336.7L1035.6 335.9L1035.9 338.9L1036.2 335.5L1036.6 342.1L1036.9 336.4L1037.2 342.3L1037.6 335.2L1037.9 339.1L1038.3 334.9L1038.6 334.6L1038.9 338.0L1039.3 339.2L1039.6 334.7L1039.9 340.3L1040.3 335.7L1040.6 337.8L1041.0 338.4L1041.3 338.9L1041.6 333.3L1042.0 341.2L1042.3 338.7L1042.6 336.4L1043.0 335.0L1043.3 333.5L1043.6 334.2L1044.0 338.6L1044.3 336.5L1044.7 334.7L1045.0 336.0L1045.3 340.8L1045.7 336.5L1046.0 335.8L1046.3 340.3L1046.7 338.2L1047.0 337.2L1047.4 335.7L1047.7 333.5L1048.0 334.4L1048.4 335.9L1048.7 336.5L1049.0 337.8L1049.4 338.2L1049.7 337.4L1050.0 337.4L1050.4 334.6L1050.7 331.9L1051.1 335.6L1051.4 334.6L1051.7 335.3L1052.1 336.1L1052.4 333.9L1052.7 334.2L1053.1 336.5L1053.4 336.9L1053.8 335.1L1054.1 337.8L1054.4 336.1L1054.8 334.2L1055.1 336.6L1055.4 340.8L1055.8 334.9L1056.1 339.1L1056.4 339.6L1056.8 339.9L1057.1 334.5L1057.5 341.0L1057.8 336.6L1058.1 335.7L1058.5 335.8L1058.8 337.7L1059.1 336.4L1059.5 335.8L1059.8 339.1L1060.2 334.5L1060.5 333.7L1060.8 337.9L1061.2 337.7L1061.5 338.6L1061.8 333.6L1062.2 338.5L1062.5 337.1L1062.8 340.0L1063.2 333.1L1063.5 336.4L1063.9 335.3L1064.2 332.2L1064.5 334.2L1064.9 338.4L1065.2 334.7L1065.5 334.1L1065.9 337.8L1066.2 338.0L1066.6 338.0L1066.9 333.9L1067.2 335.5L1067.6 338.0L1067.9 334.1L1068.2 333.9L1068.6 337.5L1068.9 339.1L1069.2 332.9L1069.6 329.5L1069.9 332.1L1070.3 333.1L1070.6 335.1L1070.9 336.8L1071.3 335.0L1071.6 333.7L1071.9 335.7L1072.3 333.1L1072.6 335.1L1073.0 333.7L1073.3 341.4L1073.6 337.0L1074.0 333.2L1074.3 332.8L1074.6 334.1L1075.0 331.3L1075.3 333.3L1075.6 333.3L1076.0 337.0L1076.3 334.0L1076.7 333.1L1077.0 331.8L1077.3 332.2L1077.7 334.7L1078.0 334.3L1078.3 337.4L1078.7 333.3L1079.0 337.2L1079.4 335.3L1079.7 334.7L1080.0 330.0L1080.4 331.6L1080.7 336.3L1081.0 337.8L1081.4 335.0L1081.7 336.3L1082.0 333.5L1082.4 333.6L1082.7 332.9L1083.1 336.6L1083.4 335.1L1083.7 333.8L1084.1 333.5L1084.4 335.5L1084.7 335.0L1085.1 332.3L1085.4 338.1L1085.8 334.7L1086.1 334.1L1086.4 337.5L1086.8 336.4L1087.1 333.8L1087.4 335.2L1087.8 331.5L1088.1 332.5L1088.4 328.7L1088.8 336.7L1089.1 329.5L1089.5 335.4L1089.8 331.9L1090.1 331.5L1090.5 333.3L1090.8 334.3L1091.1 335.1L1091.5 337.7L1091.8 334.4L1092.2 335.6L1092.5 332.2L1092.8 335.2L1093.2 333.8L1093.5 332.4L1093.8 333.2L1094.2 333.2L1094.5 333.8L1094.8 334.2L1095.2 332.1L1095.5 331.5L1095.9 334.9L1096.2 329.3L1096.5 331.7L1096.9 336.7L1097.2 326.8L1097.5 331.4L1097.9 334.6L1098.2 329.2L1098.6 338.9L1098.9 326.9L1099.2 336.2L1099.6 336.4L1099.9 334.9L1100.2 332.3L1100.6 333.5L1100.9 330.6L1101.2 334.5L1101.6 330.0L1101.9 332.0L1102.3 334.8L1102.6 330.0L1102.9 331.7L1103.3 332.8L1103.6 329.3L1103.9 335.1L1104.3 333.1L1104.6 328.8L1104.9 332.2L1105.3 330.5L1105.6 330.7L1106.0 332.4L1106.3 330.5L1106.6 334.4L1107.0 330.5L1107.3 334.3L1107.6 331.9L1108.0 334.0L1108.3 330.7L1108.7 330.8L1109.0 329.3L1109.3 333.2L1109.7 334.0L1110.0 336.7L1110.3 334.8L1110.7 332.4L1111.0 331.3L1111.3 332.6L1111.7 331.7L1112.0 335.1L1112.4 333.8L1112.7 329.7L1113.0 330.1L1113.4 334.8L1113.7 332.3L1114.0 331.0L1114.4 334.3L1114.7 330.6L1115.1 330.9L1115.4 330.4L1115.7 327.0L1116.1 333.4L1116.4 328.7L1116.7 330.1L1117.1 329.7L1117.4 333.1L1117.7 331.2L1118.1 331.4L1118.4 327.5L1118.8 331.1L1119.1 327.9L1119.4 332.0L1119.8 332.1L1120.1 331.2L1120.4 335.9L1120.8 332.4L1121.1 332.6L1121.5 331.5L1121.8 330.7L1122.1 333.4L1122.5 333.7L1122.8 328.2L1123.1 333.6L1123.5 332.3L1123.8 333.3L1124.1 332.2L1124.5 328.2L1124.8 328.4L1125.2 335.3L1125.5 331.6L1125.8 327.8L1126.2 331.8L1126.5 330.2L1126.8 326.8L1127.2 325.7L1127.5 327.3L1127.9 331.6L1128.2 330.8L1128.5 330.4L1128.9 331.6L1129.2 332.3L1129.5 326.1L1129.9 330.2L1130.2 329.0L1130.5 328.0L1130.9 329.6L1131.2 330.5L1131.6 330.2L1131.9 327.4L1132.2 329.7L1132.6 335.4L1132.9 328.3L1133.2 326.9L1133.6 331.4L1133.9 332.1L1134.3 331.8L1134.6 328.1L1134.9 333.0L1135.3 328.8L1135.6 328.0L1135.9 329.2L1136.3 330.4L1136.6 332.2L1136.9 332.0L1137.3 330.5L1137.6 332.7L1138.0 330.7L1138.3 332.6L1138.6 327.3L1139.0 326.9L1139.3 332.2L1139.6 327.2L1140.0 329.7L1140.3 330.2L1140.7 329.3L1141.0 329.3L1141.3 333.6L1141.7 324.5L1142.0 332.4L1142.3 335.6L1142.7 330.3L1143.0 330.2L1143.3 331.9L1143.7 334.4L1144.0 327.5L1144.4 330.4L1144.7 329.7L1145.0 331.4L1145.4 330.5L1145.7 331.6L1146.0 329.1L1146.4 330.2L1146.7 328.5L1147.1 328.5L1147.4 329.7L1147.7 329.7L1148.1 327.3L1148.4 333.6L1148.7 329.6L1149.1 326.7L1149.4 332.4L1149.7 328.2L1150.1 331.0L1150.4 329.8L1150.8 330.4L1151.1 330.2L1151.4 328.5L1151.8 329.9L1152.1 334.4L1152.4 324.6L1152.8 329.9L1153.1 330.7L1153.5 327.2L1153.8 326.5L1154.1 334.6L1154.5 328.8L1154.8 334.4L1155.1 330.8L1155.5 329.7L1155.8 330.6L1156.1 331.0L1156.5 332.2L1156.8 330.5L1157.2 329.8L1157.5 329.8L1157.8 332.5L1158.2 331.2L1158.5 327.0L1158.8 327.9L1159.2 330.1L1159.5 327.8L1159.9 328.4L1160.2 327.0L1160.5 328.6L1160.9 330.2L1161.2 331.5L1161.5 329.2L1161.9 333.9L1162.2 328.9L1162.5 336.4L1162.9 331.3L1163.2 330.2L1163.6 327.8L1163.9 322.5L1164.2 328.6L1164.6 329.3L1164.9 333.3L1165.2 325.7L1165.6 333.2L1165.9 328.2L1166.3 330.5L1166.6 322.9L1166.9 329.1L1167.3 327.9L1167.6 330.3L1167.9 328.9L1168.3 326.0L1168.6 330.8L1168.9 330.2L1169.3 329.9L1169.6 330.8L1170.0 331.0L1170.3 328.4L1170.6 325.3L1171.0 325.2L1171.3 331.5L1171.6 330.0L1172.0 328.6L1172.3 327.3L1172.7 328.3L1173.0 328.3L1173.3 327.4L1173.7 326.6L1174.0 333.1L1174.3 328.6L1174.7 326.7L1175.0 325.1L1175.3 326.4L1175.7 329.7L1176.0 329.7L1176.4 327.4L1176.7 328.0L1177.0 327.2L1177.4 325.3L1177.7 330.8L1178.0 328.6L1178.4 333.5L1178.7 326.0L1179.1 327.4L1179.4 329.7L1179.7 327.1L1180.1 324.4L1180.4 325.4L1180.7 327.8L1181.1 328.3L1181.4 327.3L1181.7 329.8L1182.1 329.7L1182.4 328.1L1182.8 327.4L1183.1 326.7L1183.4 328.6L1183.8 329.4L1184.1 327.4L1184.4 328.2L1184.8 326.4L1185.1 323.9L1185.5 324.8L1185.8 328.8L1186.1 328.1L1186.5 330.7L1186.8 327.1L1187.1 328.9L1187.5 330.0L1187.8 329.2L1188.1 325.5L1188.5 326.4L1188.8 327.1L1189.2 324.5L1189.5 327.8L1189.8 329.1L1190.2 325.6L1190.5 331.2L1190.8 326.0L1191.2 326.1L1191.5 326.0L1191.9 324.9L1192.2 327.5L1192.5 326.5L1192.9 330.3L1193.2 327.8L1193.5 327.6L1193.9 325.8L1194.2 323.1L1194.5 326.1L1194.9 324.3L1195.2 328.4L1195.6 326.1L1195.9 330.0L1196.2 327.8L1196.6 328.0L1196.9 326.6L1197.2 326.5L1197.6 327.5L1197.9 328.1L1198.3 324.3L1198.6 327.1L1198.9 332.0L1199.3 325.7L1199.6 325.3L1199.9 324.2L1200.3 322.5L1200.6 328.5L1200.9 325.9L1201.3 326.4L1201.6 330.0L1202.0 331.5L1202.3 323.6L1202.6 328.1L1203.0 327.0L1203.3 326.5L1203.6 326.7L1204.0 325.5L1204.3 329.2L1204.7 326.9L1205.0 326.3L1205.3 328.3L1205.7 327.5L1206.0 326.4L1206.3 326.1L1206.7 329.4L1207.0 326.5L1207.3 325.1L1207.7 323.3L1208.0 324.4L1208.4 322.8L1208.7 325.4L1209.0 325.8L1209.4 320.4L1209.7 325.2L1210.0 326.6L1210.4 325.4L1210.7 322.8L1211.1 327.9L1211.4 323.4L1211.7 322.1L1212.1 322.5L1212.4 324.9L1212.7 327.2L1213.1 327.6L1213.4 325.3L1213.7 322.1L1214.1 323.3L1214.4 322.7L1214.8 324.3L1215.1 320.6L1215.4 325.0L1215.8 326.2L1216.1 324.3L1216.4 325.7L1216.8 322.4L1217.1 321.2L1217.4 323.1L1217.8 327.2L1218.1 326.9L1218.5 323.4L1218.8 327.3L1219.1 323.7L1219.5 327.9L1219.8 325.5L1220.1 323.3L1220.5 326.2L1220.8 322.5L1221.2 322.1L1221.5 320.8L1221.8 324.8L1222.2 324.1L1222.5 324.0L1222.8 323.2L1223.2 327.5L1223.5 323.1L1223.8 322.3L1224.2 327.0L1224.5 327.4L1224.9 324.8L1225.2 319.8L1225.5 322.5L1225.9 325.3L1226.2 323.9L1226.5 327.5L1226.9 320.6L1227.2 325.4L1227.6 322.3L1227.9 326.9L1228.2 323.5L1228.6 326.1L1228.9 322.1L1229.2 320.2L1229.6 320.9L1229.9 322.1L1230.2 321.1L1230.6 326.3L1230.9 326.6L1231.3 324.1L1231.6 320.9L1231.9 323.1L1232.3 321.7L1232.6 326.8L1232.9 324.0L1233.3 324.4L1233.6 322.2L1234.0 318.3L1234.3 321.2L1234.6 320.4L1235.0 323.9L1235.3 323.2L1235.6 321.0L1236.0 322.0L1236.3 326.7L1236.6 320.5L1237.0 320.6L1237.3 322.2L1237.7 321.0L1238.0 321.7L1238.3 324.0L1238.7 326.9L1239.0 318.2L1239.3 322.5L1239.7 322.6L1240.0 322.3L1240.4 322.0L1240.7 321.5L1241.0 324.8L1241.4 321.1L1241.7 321.9L1242.0 322.2L1242.4 322.4L1242.7 321.7L1243.0 324.5L1243.4 322.0L1243.7 322.4L1244.1 321.8L1244.4 319.4L1244.7 319.7L1245.1 319.1L1245.4 322.2L1245.7 319.9L1246.1 319.0L1246.4 322.2L1246.8 322.8L1247.1 317.0L1247.4 325.7L1247.8 321.4L1248.1 321.0L1248.4 324.0L1248.8 321.4L1249.1 319.6L1249.4 326.7L1249.8 318.3L1250.1 320.7L1250.5 323.1L1250.8 318.2L1251.1 320.6L1251.5 321.8L1251.8 326.9L1252.1 318.4L1252.5 320.5L1252.8 322.3L1253.2 320.7L1253.5 317.3L1253.8 321.5L1254.2 320.6L1254.5 321.4L1254.8 323.2L1255.2 322.8L1255.5 321.2L1255.8 320.9L1256.2 317.1L1256.5 319.6L1256.9 320.5L1257.2 318.8L1257.5 320.0L1257.9 317.6L1258.2 323.7L1258.5 325.3L1258.9 318.5L1259.2 320.6L1259.6 318.8L1259.9 322.7L1260.2 320.5L1260.6 319.5L1260.9 318.6L1261.2 319.5L1261.6 316.5L1261.9 320.9L1262.2 317.1L1262.6 320.4L1262.9 319.3L1263.3 321.8L1263.6 318.8L1263.9 321.5L1264.3 316.2L1264.6 320.3L1264.9 318.0L1265.3 319.1L1265.6 318.7L1266.0 321.0L1266.3 312.9L1266.6 319.2L1267.0 314.2L1267.3 321.5L1267.6 312.8L1268.0 315.4L1268.3 313.5L1268.6 322.5L1269.0 314.5L1269.3 318.3L1269.7 316.4L1270.0 312.9L1270.3 316.9L1270.7 319.6L1271.0 317.2L1271.3 320.3L1271.7 316.6L1272.0 317.6L1272.4 316.5L1272.7 318.5L1273.0 322.7L1273.4 318.4L1273.7 317.9L1274.0 315.6L1274.4 315.2L1274.7 321.3L1275.0 314.1L1275.4 314.6L1275.7 316.8L1276.1 315.9L1276.4 322.5L1276.7 310.4L1277.1 318.0L1277.4 318.9L1277.7 313.7L1278.1 315.0L1278.4 318.0L1278.8 321.3L1279.1 314.1L1279.4 312.2L1279.8 319.4L1280.1 320.9L1280.4 315.6L1280.8 310.3L1281.1 320.6L1281.4 315.9L1281.8 319.6L1282.1 316.2L1282.5 315.2L1282.8 315.0L1283.1 320.4L1283.5 320.3L1283.8 310.1L1284.1 313.4L1284.5 321.1L1284.8 315.0L1285.2 312.1L1285.5 316.0L1285.8 315.6L1286.2 315.6L1286.5 314.5L1286.8 314.9L1287.2 314.5L1287.5 316.7L1287.8 313.4L1288.2 314.8L1288.5 315.2L1288.9 319.3L1289.2 316.6L1289.5 315.2L1289.9 317.0L1290.2 316.6L1290.5 318.5L1290.9 316.8L1291.2 320.5L1291.6 319.2L1291.9 315.1L1292.2 314.0L1292.6 317.7L1292.9 316.6L1293.2 314.8L1293.6 310.8L1293.9 309.7L1294.2 316.0L1294.6 317.2L1294.9 317.3L1295.3 311.1L1295.6 317.9L1295.9 313.2L1296.3 315.9L1296.6 316.0L1296.9 312.3L1297.3 312.9L1297.6 308.5L1298.0 311.9L1298.3 309.2L1298.6 315.8L1299.0 314.7L1299.3 317.1L1299.6 315.5L1300.0 312.5L1300.3 315.4L1300.6 313.1L1301.0 316.1L1301.3 315.2L1301.7 311.3L1302.0 314.2L1302.3 314.3L1302.7 313.2L1303.0 316.7L1303.3 319.1L1303.7 312.9L1304.0 312.9L1304.4 307.2L1304.7 313.5L1305.0 312.5L1305.4 307.3L1305.7 314.6L1306.0 315.5L1306.4 311.5L1306.7 312.5L1307.0 310.7L1307.4 315.9L1307.7 309.0L1308.1 312.6L1308.4 319.4L1308.7 313.6L1309.1 314.8L1309.4 312.9L1309.7 309.8L1310.1 313.2L1310.4 314.5L1310.8 310.1L1311.1 314.2L1311.4 316.9L1311.8 316.4L1312.1 308.3L1312.4 310.1L1312.8 308.1L1313.1 316.2L1313.4 314.8L1313.8 315.0L1314.1 310.2L1314.5 309.3L1314.8 313.0L1315.1 313.1L1315.5 310.1L1315.8 313.1L1316.1 314.6L1316.5 313.3L1316.8 309.4L1317.2 306.1L1317.5 311.7L1317.8 313.0L1318.2 311.7L1318.5 311.1L1318.8 310.3L1319.2 314.6L1319.5 312.2L1319.8 312.7L1320.2 309.3L1320.5 310.3L1320.9 312.7L1321.2 309.1L1321.5 308.2L1321.9 311.1L1322.2 315.8L1322.5 312.6L1322.9 316.5L1323.2 311.6L1323.6 311.0L1323.9 307.6L1324.2 310.1L1324.6 316.3L1324.9 312.8L1325.2 314.1L1325.6 314.0L1325.9 311.7L1326.2 311.0L1326.6 312.0L1326.9 313.7L1327.3 313.0L1327.6 313.1L1327.9 312.0L1328.3 309.1L1328.6 310.6L1328.9 308.5L1329.3 314.6L1329.6 304.8L1329.9 310.6L1330.3 318.8L1330.6 310.2L1331.0 307.7L1331.3 311.1L1331.6 315.2L1332.0 310.6L1332.3 313.0L1332.6 311.4L1333.0 309.9L1333.3 321.0L1333.7 311.2L1334.0 309.2L1334.3 309.3L1334.7 312.1L1335.0 312.1L1335.3 313.3L1335.7 311.2L1336.0 306.2L1336.3 312.4L1336.7 309.7L1337.0 309.7L1337.4 305.9L1337.7 308.7L1338.0 308.2L1338.4 310.4L1338.7 305.8L1339.0 310.6L1339.4 310.8L1339.7 306.8L1340.1 308.3L1340.4 307.5L1340.7 313.2L1341.1 302.1L1341.4 309.1L1341.7 304.8L1342.1 308.7L1342.4 312.8L1342.7 308.0L1343.1 310.4L1343.4 307.2L1343.8 316.2L1344.1 312.8L1344.4 313.5L1344.8 305.5L1345.1 306.2L1345.4 313.2L1345.8 309.1L1346.1 308.8L1346.5 310.7L1346.8 305.5L1347.1 312.0L1347.5 309.6L1347.8 311.0L1348.1 307.2L1348.5 311.0L1348.8 307.0L1349.1 312.4L1349.5 312.9L1349.8 312.2L1350.2 310.9L1350.5 311.2L1350.8 300.2L1351.2 311.8L1351.5 308.1L1351.8 309.3L1352.2 308.0L1352.5 304.3L1352.9 307.0L1353.2 311.0L1353.5 313.4L1353.9 306.6L1354.2 305.7L1354.5 313.4L1354.9 305.6L1355.2 315.4L1355.5 308.6L1355.9 305.5L1356.2 311.7L1356.6 314.0L1356.9 303.5L1357.2 313.5L1357.6 307.3L1357.9 313.1L1358.2 306.8L1358.6 302.8L1358.9 309.7L1359.3 311.1L1359.6 315.0L1359.9 313.7L1360.3 310.2L1360.6 307.0L1360.9 306.0L1361.3 306.7L1361.6 304.8L1361.9 306.7L1362.3 298.9L1362.6 308.1L1363.0 307.4L1363.3 316.1L1363.6 309.9L1364.0 305.7L1364.3 309.2L1364.6 303.0L1365.0 305.1L1365.3 300.8L1365.7 312.0L1366.0 309.0L1366.3 303.0L1366.7 306.7L1367.0 310.1L1367.3 308.5L1367.7 308.1L1368.0 303.8L1368.3 304.5L1368.7 307.0L1369.0 309.7L1369.4 303.7L1369.7 302.6L1370.0 310.4L1370.4 303.2L1370.7 310.1L1371.0 307.1L1371.4 309.3L1371.7 312.2L1372.1 308.5L1372.4 308.8L1372.7 302.8L1373.1 303.6L1373.4 308.2L1373.7 311.2L1374.1 310.7L1374.4 313.9L1374.7 306.8L1375.1 306.4L1375.4 309.1L1375.8 305.6L1376.1 305.3L1376.4 301.8L1376.8 308.9L1377.1 301.6L1377.4 307.1L1377.8 300.3L1378.1 309.1L1378.5 301.5L1378.8 308.1L1379.1 299.5L1379.5 303.5L1379.8 309.1L1380.1 302.1L1380.5 305.1L1380.8 303.1L1381.1 296.6L1381.5 305.8L1381.8 306.2L1382.2 300.7L1382.5 306.6L1382.8 301.7L1383.2 300.9L1383.5 304.4L1383.8 301.9L1384.2 312.5L1384.5 298.7L1384.9 306.9L1385.2 307.7L1385.5 297.0L1385.9 297.8L1386.2 306.0" stroke="#ff0000"/>
<path d="M123.1 663.7L123.4 666.5L123.8 669.1L124.1 665.5L124.4 664.1L124.8 660.0L125.1 668.5L125.5 665.9L125.8 669.7L126.1 669.9L126.5 666.0L126.8 674.9L127.1 673.6L127.5 673.5L127.8 668.4L128.2 671.0L128.5 671.1L128.8 671.9L129.2 670.5L129.5 675.2L129.8 675.1L130.2 675.9L130.5 674.0L130.8 679.3L131.2 676.7L131.5 669.2L131.9 675.3L132.2 677.3L132.5 680.4L132.9 677.4L133.2 677.9L133.5 677.1L133.9 681.1L134.2 678.4L134.6 678.3L134.9 678.2L135.2 682.0L135.6 679.3L135.9 676.5L136.2 683.0L136.6 679.6L136.9 682.8L137.2 683.1L137.6 685.6L137.9 685.4L138.3 681.2L138.6 682.6L138.9 679.8L139.3 688.0L139.6 684.9L139.9 687.7L140.3 683.3L140.6 678.8L141.0 688.7L141.3 685.0L141.6 685.4L142.0 685.3L142.3 687.1L142.6 687.0L143.0 681.5L143.3 688.9L143.6 684.7L144.0 685.0L144.3 691.1L144.7 689.1L145.0 685.8L145.3 681.9L145.7 687.5L146.0 688.7L146.3 687.1L146.7 684.1L147.0 685.4L147.4 684.3L147.7 688.4L148.0 690.2L148.4 690.8L148.7 686.2L149.0 688.9L149.4 689.9L149.7 687.1L150.0 688.2L150.4 694.4L150.7 689.3L151.1 691.3L151.4 687.8L151.7 689.2L152.1 684.6L152.4 689.2L152.7 692.6L153.1 695.1L153.4 692.8L153.8 691.5L154.1 689.9L154.4 688.2L154.8 689.5L155.1 691.6L155.4 688.0L155.8 692.6L156.1 687.6L156.4 685.6L156.8 687.7L157.1 686.0L157.5 686.9L157.8 693.6L158.1 690.2L158.5 691.4L158.8 693.9L159.1 694.3L159.5 689.7L159.8 694.6L160.2 692.1L160.5 691.2L160.8 692.4L161.2 687.6L161.5 689.3L161.8 691.2L162.2 693.1L162.5 690.6L162.8 691.3L163.2 694.3L163.5 695.5L163.9 693.9L164.2 695.3L164.5 690.9L164.9 691.2L165.2 692.9L165.5 691.4L165.9 690.9L166.2 696.6L166.6 691.8L166.9 689.9L167.2 693.8L167.6 697.3L167.9 692.8L168.2 695.9L168.6 691.6L168.9 691.5L169.2 691.0L169.6 692.5L169.9 697.8L170.3 690.0L170.6 697.4L170.9 690.5L171.3 692.6L171.6 695.5L171.9 695.0L172.3 694.1L172.6 689.2L173.0 694.5L173.3 690.9L173.6 700.3L174.0 693.2L174.3 694.3L174.6 690.9L175.0 692.7L175.3 690.6L175.6 696.5L176.0 693.4L176.3 695.6L176.7 692.4L177.0 693.0L177.3 697.6L177.7 691.9L178.0 689.8L178.3 695.5L178.7 691.6L179.0 693.5L179.4 697.0L179.7 692.6L180.0 697.0L180.4 693.1L180.7 698.7L181.0 698.3L181.4 693.8L181.7 694.5L182.0 693.0L182.4 695.7L182.7 698.1L183.1 691.5L183.4 697.7L183.7 692.0L184.1 693.2L184.4 690.9L184.7 700.9L185.1 695.7L185.4 696.2L185.7 693.9L186.1 698.4L186.4 690.4L186.8 695.9L187.1 701.5L187.4 695.0L187.8 696.0L188.1 697.7L188.4 694.0L188.8 696.2L189.1 698.6L189.5 696.7L189.8 697.2L190.1 695.4L190.5 697.2L190.8 696.6L191.1 700.2L191.5 698.4L191.8 696.0L192.1 690.4L192.5 698.5L192.8 698.6L193.2 694.5L193.5 691.8L193.8 694.0L194.2 699.3L194.5 694.3L194.8 695.9L195.2 697.6L195.5 700.2L195.9 697.1L196.2 697.0L196.5 695.9L196.9 701.4L197.2 700.0L197.5 697.2L197.9 693.9L198.2 695.5L198.5 699.0L198.9 695.8L199.2 699.9L199.6 698.6L199.9 698.5L200.2 699.4L200.6 699.1L200.9 695.7L201.2 697.1L201.6 703.8L201.9 695.0L202.3 696.9L202.6 700.8L202.9 697.8L203.3 696.2L203.6 694.9L203.9 699.6L204.3 700.9L204.6 701.9L204.9 698.6L205.3 701.1L205.6 695.9L206.0 699.0L206.3 696.9L206.6 699.1L207.0 700.6L207.3 701.4L207.6 696.3L208.0 702.0L208.3 697.7L208.7 696.4L209.0 698.6L209.3 695.4L209.7 699.1L210.0 699.8L210.3 698.7L210.7 700.5L211.0 698.5L211.3 699.3L211.7 695.8L212.0 699.5L212.4 697.3L212.7 698.4L213.0 699.3L213.4 700.0L213.7 695.5L214.0 695.8L214.4 698.9L214.7 700.9L215.1 700.7L215.4 702.0L215.7 703.1L216.1 701.1L216.4 699.9L216.7 697.4L217.1 697.7L217.4 698.9L217.7 700.8L218.1 700.7L218.4 700.2L218.8 699.9L219.1 701.8L219.4 700.8L219.8 701.1L220.1 701.2L220.4 699.1L220.8 697.9L221.1 701.7L221.5 701.6L221.8 700.1L222.1 699.6L222.5 706.3L222.8 698.9L223.1 700.2L223.5 701.5L223.8 698.0L224.1 701.2L224.5 705.3L224.8 703.3L225.2 702.6L225.5 702.5L225.8 701.4L226.2 703.5L226.5 700.8L226.8 700.2L227.2 701.5L227.5 703.5L227.9 702.2L228.2 703.0L228.5 696.5L228.9 704.4L229.2 707.2L229.5 704.8L229.9 700.8L230.2 699.6L230.5 702.4L230.9 699.3L231.2 703.5L231.6 700.5L231.9 704.2L232.2 705.2L232.6 697.0L232.9 702.7L233.2 700.3L233.6 698.6L233.9 700.6L234.3 701.6L234.6 704.7L234.9 698.5L235.3 704.8L235.6 707.2L235.9 703.8L236.3 703.7L236.6 702.4L236.9 699.6L237.3 703.8L237.6 703.5L238.0 704.4L238.3 708.9L238.6 704.5L239.0 703.8L239.3 706.6L239.6 699.6L240.0 700.1L240.3 702.0L240.7 701.4L241.0 704.7L241.3 702.3L241.7 707.3L242.0 706.8L242.3 705.0L242.7 702.3L243.0 704.8L243.3 705.3L243.7 700.8L244.0 704.2L244.4 705.1L244.7 704.0L245.0 707.3L245.4 706.5L245.7 701.6L246.0 704.0L246.4 701.7L246.7 705.1L247.1 701.7L247.4 706.1L247.7 704.8L248.1 706.3L248.4 703.6L248.7 700.5L249.1 708.3L249.4 703.7L249.7 707.4L250.1 705.2L250.4 705.8L250.8 708.6L251.1 705.1L251.4 707.7L251.8 700.9L252.1 706.5L252.4 703.9L252.8 704.2L253.1 704.6L253.5 705.4L253.8 708.6L254.1 700.3L254.5 704.9L254.8 703.1L255.1 707.6L255.5 703.9L255.8 706.0L256.1 704.0L256.5 706.6L256.8 707.5L257.2 704.2L257.5 705.3L257.8 701.8L258.2 705.9L258.5 707.3L258.8 704.0L259.2 708.0L259.5 700.5L259.9 701.1L260.2 702.2L260.5 704.4L260.9 705.6L261.2 705.4L261.5 705.5L261.9 707.4L262.2 704.6L262.5 702.8L262.9 702.9L263.2 710.8L263.6 700.4L263.9 705.5L264.2 709.4L264.6 707.2L264.9 704.1L265.2 706.1L265.6 708.2L265.9 709.0L266.3 704.1L266.6 708.0L266.9 706.9L267.3 708.9L267.6 709.6L267.9 705.6L268.3 703.1L268.6 707.4L268.9 710.7L269.3 708.2L269.6 707.2L270.0 712.3L270.3 704.3L270.6 708.9L271.0 705.5L271.3 706.9L271.6 707.1L272.0 710.4L272.3 704.8L272.7 705.7L273.0 703.3L273.3 708.2L273.7 706.0L274.0 708.1L274.3 704.7L274.7 706.4L275.0 709.7L275.3 706.9L275.7 708.8L276.0 708.6L276.4 706.6L276.7 703.8L277.0 709.8L277.4 707.9L277.7 709.9L278.0 702.9L278.4 703.8L278.7 702.7L279.1 705.7L279.4 710.2L279.7 709.1L280.1 707.8L280.4 708.2L280.7 709.7L281.1 707.3L281.4 708.9L281.7 708.4L282.1 703.0L282.4 707.2L282.8 711.3L283.1 707.3L283.4 707.9L283.8 706.9L284.1 707.2L284.4 710.9L284.8 707.8L285.1 706.1L285.5 701.3L285.8 707.2L286.1 704.0L286.5 704.4L286.8 710.4L287.1 710.3L287.5 704.3L287.8 710.7L288.1 709.8L288.5 707.0L288.8 710.5L289.2 705.1L289.5 706.2L289.8 705.7L290.2 706.4L290.5 711.1L290.8 706.0L291.2 706.5L291.5 707.0L291.9 709.6L292.2 708.4L292.5 711.2L292.9 707.7L293.2 706.4L293.5 708.2L293.9 709.5L294.2 707.3L294.5 710.1L294.9 713.6L295.2 708.2L295.6 709.7L295.9 712.7L296.2 708.2L296.6 707.7L296.9 707.2L297.2 710.6L297.6 710.9L297.9 709.5L298.2 709.9L298.6 712.8L298.9 711.9L299.3 706.7L299.6 709.9L299.9 710.2L300.3 711.7L300.6 709.5L300.9 708.6L301.3 709.1L301.6 706.1L302.0 710.1L302.3 708.8L302.6 711.3L303.0 707.9L303.3 709.3L303.6 708.1L304.0 707.9L304.3 712.0L304.6 709.4L305.0 711.4L305.3 707.9L305.7 710.7L306.0 706.7L306.3 709.5L306.7 709.4L307.0 711.9L307.3 711.0L307.7 710.3L308.0 712.6L308.4 711.1L308.7 712.0L309.0 712.5L309.4 710.6L309.7 710.2L310.0 711.6L310.4 709.9L310.7 711.8L311.0 713.4L311.4 712.9L311.7 710.1L312.1 708.1L312.4 710.9L312.7 710.8L313.1 713.6L313.4 710.3L313.7 710.7L314.1 712.8L314.4 710.2L314.8 710.9L315.1 715.1L315.4 714.7L315.8 712.8L316.1 712.0L316.4 709.2L316.8 712.7L317.1 711.6L317.4 712.0L317.8 710.4L318.1 711.5L318.5 711.2L318.8 712.3L319.1 714.8L319.5 712.5L319.8 708.0L320.1 709.6L320.5 708.2L320.8 710.0L321.2 713.1L321.5 712.8L321.8 710.6L322.2 712.5L322.5 710.3L322.8 708.8L323.2 708.9L323.5 710.1L323.8 715.2L324.2 709.1L324.5 714.9L324.9 715.1L325.2 711.8L325.5 712.1L325.9 710.9L326.2 712.2L326.5 713.8L326.9 712.3L327.2 714.6L327.6 715.0L327.9 713.2L328.2 713.2L328.6 712.3L328.9 713.2L329.2 710.0L329.6 713.4L329.9 713.0L330.2 710.7L330.6 717.4L330.9 710.5L331.3 710.7L331.6 713.3L331.9 708.4L332.3 711.0L332.6 709.4L332.9 710.6L333.3 712.5L333.6 713.5L334.0 715.3L334.3 714.6L334.6 715.5L335.0 714.2L335.3 711.9L335.6 715.4L336.0 711.9L336.3 711.6L336.6 716.4L337.0 714.7L337.3 713.5L337.7 714.7L338.0 715.0L338.3 710.0L338.7 712.9L339.0 710.5L339.3 713.4L339.7 711.6L340.0 716.1L340.4 714.3L340.7 711.4L341.0 713.1L341.4 710.5L341.7 713.3L342.0 714.4L342.4 713.8L342.7 708.9L343.0 712.5L343.4 714.3L343.7 713.9L344.1 715.8L344.4 710.4L344.7 714.4L345.1 711.8L345.4 713.7L345.7 714.1L346.1 714.8L346.4 712.0L346.8 713.7L347.1 710.7L347.4 710.1L347.8 714.5L348.1 713.1L348.4 709.7L348.8 711.4L349.1 713.3L349.4 716.7L349.8 715.5L350.1 715.0L350.5 709.3L350.8 713.0L351.1 714.3L351.5 714.1L351.8 714.1L352.1 712.7L352.5 717.1L352.8 716.4L353.2 713.0L353.5 711.0L353.8 717.7L354.2 711.9L354.5 715.8L354.8 717.3L355.2 711.0L355.5 713.7L355.8 712.3L356.2 714.2L356.5 713.8L356.9 717.4L357.2 714.4L357.5 713.0L357.9 715.5L358.2 712.4L358.5 712.2L358.9 717.9L359.2 711.2L359.6 711.9L359.9 713.0L360.2 710.6L360.6 708.3L360.9 715.3L361.2 711.2L361.6 711.7L361.9 712.0L362.2 710.7L362.6 710.5L362.9 713.2L363.3 718.1L363.6 714.4L363.9 714.4L364.3 709.4L364.6 712.7L364.9 710.1L365.3 714.4L365.6 712.2L366.0 712.8L366.3 712.5L366.6 711.4L367.0 709.3L367.3 713.9L367.6 709.5L368.0 710.0L368.3 711.9L368.6 711.0L369.0 713.1L369.3 714.8L369.7 713.1L370.0 712.9L370.3 712.5L370.7 714.4L371.0 708.3L371.3 713.3L371.7 710.3L372.0 709.7L372.4 712.4L372.7 711.5L373.0 713.6L373.4 714.8L373.7 707.1L374.0 712.1L374.4 716.6L374.7 714.2L375.0 715.4L375.4 712.4L375.7 708.9L376.1 709.6L376.4 713.7L376.7 714.2L377.1 710.4L377.4 711.4L377.7 712.5L378.1 708.0L378.4 711.1L378.8 715.4L379.1 716.7L379.4 711.5L379.8 715.8L380.1 710.5L380.4 709.8L380.8 706.6L381.1 713.7L381.4 710.7L381.8 716.7L382.1 712.2L382.5 711.8L382.8 707.3L383.1 714.7L383.5 710.5L383.8 710.9L384.1 706.2L384.5 713.2L384.8 713.4L385.2 709.7L385.5 711.3L385.8 711.9L386.2 713.1L386.5 711.2L386.8 714.8L387.2 710.3L387.5 709.5L387.8 709.7L388.2 705.0L388.5 708.9L388.9 713.0L389.2 711.3L389.5 708.8L389.9 711.4L390.2 706.0L390.5 709.9L390.9 711.7L391.2 712.1L391.6 708.7L391.9 712.5L392.2 714.7L392.6 709.4L392.9 712.1L393.2 706.8L393.6 705.9L393.9 711.7L394.2 710.4L394.6 710.7L394.9 709.0L395.3 709.6L395.6 712.1L395.9 714.2L396.3 709.8L396.6 706.5L396.9 713.1L397.3 711.6L397.6 711.8L398.0 710.6L398.3 715.5L398.6 710.4L399.0 711.4L399.3 706.0L399.6 708.9L400.0 708.6L400.3 710.1L400.6 711.0L401.0 708.5L401.3 714.1L401.7 707.8L402.0 709.1L402.3 710.7L402.7 707.3L403.0 711.5L403.3 711.6L403.7 709.5L404.0 714.5L404.4 710.3L404.7 710.8L405.0 708.0L405.4 706.3L405.7 708.7L406.0 709.4L406.4 709.1L406.7 711.9L407.0 704.7L407.4 707.5L407.7 706.0L408.1 713.2L408.4 708.8L408.7 708.9L409.1 707.6L409.4 712.2L409.7 709.2L410.1 710.6L410.4 705.5L410.7 712.8L411.1 711.0L411.4 711.3L411.8 712.9L412.1 709.6L412.4 709.7L412.8 711.7L413.1 711.1L413.4 709.5L413.8 710.2L414.1 708.9L414.5 711.7L414.8 712.2L415.1 710.1L415.5 714.4L415.8 706.6L416.1 709.5L416.5 714.0L416.8 709.1L417.1 706.4L417.5 713.2L417.8 711.3L418.2 707.3L418.5 711.8L418.8 707.7L419.2 707.0L419.5 709.7L419.8 709.0L420.2 707.5L420.5 709.2L420.9 707.8L421.2 710.2L421.5 710.0L421.9 711.7L422.2 709.0L422.5 707.0L422.9 707.0L423.2 709.5L423.5 713.5L423.9 712.0L424.2 708.6L424.6 712.2L424.9 707.4L425.2 712.3L425.6 709.1L425.9 711.8L426.2 711.4L426.6 709.4L426.9 710.8L427.3 707.6L427.6 709.8L427.9 712.5L428.3 719.3L428.6 711.6L428.9 710.2L429.3 707.7L429.6 712.4L429.9 706.2L430.3 708.1L430.6 710.8L431.0 707.2L431.3 713.5L431.6 712.5L432.0 708.7L432.3 708.7L432.6 706.9L433.0 706.8L433.3 711.0L433.7 711.4L434.0 710.7L434.3 710.5L434.7 708.7L435.0 710.8L435.3 706.6L435.7 709.9L436.0 713.3L436.3 712.9L436.7 708.8L437.0 709.1L437.4 713.0L437.7 714.0L438.0 706.5L438.4 708.9L438.7 710.4L439.0 712.6L439.4 707.9L439.7 711.3L440.1 709.2L440.4 715.3L440.7 710.8L441.1 709.5L441.4 709.0L441.7 712.2L442.1 711.4L442.4 707.3L442.7 710.3L443.1 706.7L443.4 708.0L443.8 706.8L444.1 706.7L444.4 708.2L444.8 707.5L445.1 710.9L445.4 711.5L445.8 709.2L446.1 707.1L446.5 711.5L446.8 705.1L447.1 705.3L447.5 711.3L447.8 711.2L448.1 711.9L448.5 709.2L448.8 706.8L449.1 708.5L449.5 710.9L449.8 707.9L450.2 708.0L450.5 706.4L450.8 706.9L451.2 711.5L451.5 710.6L451.8 706.9L452.2 707.1L452.5 708.3L452.9 710.8L453.2 706.9L453.5 709.2L453.9 704.6L454.2 706.6L454.5 710.5L454.9 711.6L455.2 706.9L455.5 707.7L455.9 711.3L456.2 708.6L456.6 708.3L456.9 710.7L457.2 709.9L457.6 712.0L457.9 711.3L458.2 708.1L458.6 709.2L458.9 709.3L459.3 706.3L459.6 707.2L459.9 711.7L460.3 705.8L460.6 711.7L460.9 710.1L461.3 709.1L461.6 710.7L461.9 710.5L462.3 712.2L462.6 708.5L463.0 708.9L463.3 708.9L463.6 713.8L464.0 711.6L464.3 707.3L464.6 708.7L465.0 707.8L465.3 709.5L465.7 710.0L466.0 714.7L466.3 705.3L466.7 711.9L467.0 710.5L467.3 707.9L467.7 709.2L468.0 708.4L468.3 709.7L468.7 711.9L469.0 706.1L469.4 712.6L469.7 708.8L470.0 713.1L470.4 710.6L470.7 712.5L471.0 711.0L471.4 712.3L471.7 709.9L472.1 708.0L472.4 711.5L472.7 711.6L473.1 714.8L473.4 705.5L473.7 709.7L474.1 712.7L474.4 707.5L474.7 709.9L475.1 715.3L475.4 713.8L475.8 708.7L476.1 714.0L476.4 713.5L476.8 712.7L477.1 711.9L477.4 711.7L477.8 709.3L478.1 710.2L478.5 713.1L478.8 711.9L479.1 715.8L479.5 711.0L479.8 706.5L480.1 711.3L480.5 712.8L480.8 713.1L481.1 712.5L481.5 710.7L481.8 716.0L482.2 711.3L482.5 714.4L482.8 712.3L483.2 710.4L483.5 716.4L483.8 707.8L484.2 711.6L484.5 714.5L484.9 712.9L485.2 715.5L485.5 713.7L485.9 713.0L486.2 718.9L486.5 713.8L486.9 714.0L487.2 712.1L487.5 712.9L487.9 716.1L488.2 716.0L488.6 714.9L488.9 713.4L489.2 716.6L489.6 711.5L489.9 714.6L490.2 714.9L490.6 713.7L490.9 716.0L491.3 714.3L491.6 714.1L491.9 719.9L492.3 717.7L492.6 718.8L492.9 716.5L493.3 718.6L493.6 718.3L493.9 719.3L494.3 721.9L494.6 716.5L495.0 717.6L495.3 717.1L495.6 709.8L496.0 714.5L496.3 717.6L496.6 719.0L497.0 716.6L497.3 720.4L497.7 720.8L498.0 717.3L498.3 721.3L498.7 722.1L499.0 719.5L499.3 716.6L499.7 721.9L500.0 718.6L500.3 718.2L500.7 719.4L501.0 718.1L501.4 721.6L501.7 721.1L502.0 722.2L502.4 720.9L502.7 718.2L503.0 719.6L503.4 721.9L503.7 719.3L504.1 726.3L504.4 719.9L504.7 719.2L505.1 723.0L505.4 722.2L505.7 720.7L506.1 720.4L506.4 721.8L506.7 722.8L507.1 722.7L507.4 720.6L507.8 722.2L508.1 723.2L508.4 723.1L508.8 715.3L509.1 719.9L509.4 720.2L509.8 721.4L510.1 722.3L510.5 723.9L510.8 723.4L511.1 722.0L511.5 722.3L511.8 726.0L512.1 721.2L512.5 723.2L512.8 725.8L513.1 723.4L513.5 718.7L513.8 723.7L514.2 722.2L514.5 722.8L514.8 725.3L515.2 724.2L515.5 722.8L515.8 725.2L516.2 724.4L516.5 723.8L516.9 724.2L517.2 724.2L517.5 723.1L517.9 722.9L518.2 724.0L518.5 722.1L518.9 721.6L519.2 726.8L519.5 723.8L519.9 724.3L520.2 724.1L520.6 724.5L520.9 724.6L521.2 724.8L521.6 723.1L521.9 726.6L522.2 723.5L522.6 727.0L522.9 721.1L523.3 722.9L523.6 727.1L523.9 724.9L524.3 723.9L524.6 726.0L524.9 723.3L525.3 725.6L525.6 721.1L525.9 724.7L526.3 724.3L526.6 726.7L527.0 727.5L527.3 724.1L527.6 729.0L528.0 724.7L528.3 721.9L528.6 721.3L529.0 729.1L529.3 725.9L529.6 724.9L530.0 724.8L530.3 724.1L530.7 729.0L531.0 726.2L531.3 729.9L531.7 726.1L532.0 721.9L532.3 728.2L532.7 725.9L533.0 726.2L533.4 729.8L533.7 726.2L534.0 729.1L534.4 726.8L534.7 725.4L535.0 727.9L535.4 725.8L535.7 729.4L536.0 728.9L536.4 727.2L536.7 728.3L537.1 728.2L537.4 726.7L537.7 729.0L538.1 726.8L538.4 728.5L538.7 725.5L539.1 727.6L539.4 728.2L539.8 725.9L540.1 726.7L540.4 726.5L540.8 729.0L541.1 726.2L541.4 728.5L541.8 730.6L542.1 728.4L542.4 724.6L542.8 728.0L543.1 729.8L543.5 727.3L543.8 730.0L544.1 729.1L544.5 728.8L544.8 727.5L545.1 727.0L545.5 727.6L545.8 728.2L546.2 729.1L546.5 729.0L546.8 727.6L547.2 728.4L547.5 729.0L547.8 725.2L548.2 726.9L548.5 726.8L548.8 728.0L549.2 727.9L549.5 728.0L549.9 726.8L550.2 729.8L550.5 729.1L550.9 725.5L551.2 728.7L551.5 726.5L551.9 732.0L552.2 727.9L552.6 728.1L552.9 729.0L553.2 728.5L553.6 728.8L553.9 731.9L554.2 729.5L554.6 730.7L554.9 731.3L555.2 727.3L555.6 732.4L555.9 730.6L556.3 731.1L556.6 727.7L556.9 730.9L557.3 730.2L557.6 728.5L557.9 733.9L558.3 730.7L558.6 729.2L559.0 730.1L559.3 731.5L559.6 732.0L560.0 731.0L560.3 732.2L560.6 732.8L561.0 727.7L561.3 729.2L561.6 728.4L562.0 730.4L562.3 733.0L562.7 731.6L563.0 728.4L563.3 729.9L563.7 732.5L564.0 729.6L564.3 730.5L564.7 731.3L565.0 727.4L565.4 732.3L565.7 731.5L566.0 732.0L566.4 729.2L566.7 729.6L567.0 730.0L567.4 731.7L567.7 731.4L568.0 731.6L568.4 734.7L568.7 733.9L569.1 730.2L569.4 730.3L569.7 734.8L570.1 731.1L570.4 734.3L570.7 734.8L571.1 730.8L571.4 731.4L571.8 732.1L572.1 730.4L572.4 730.2L572.8 731.3L573.1 733.7L573.4 731.3L573.8 731.8L574.1 731.4L574.4 729.8L574.8 735.1L575.1 728.0L575.5 731.2L575.8 733.5L576.1 729.9L576.5 733.6L576.8 734.9L577.1 731.0L577.5 733.0L577.8 730.6L578.2 733.6L578.5 732.8L578.8 733.1L579.2 735.2L579.5 733.6L579.8 735.2L580.2 733.9L580.5 730.5L580.8 733.3L581.2 733.7L581.5 730.1L581.9 735.2L582.2 732.9L582.5 733.5L582.9 731.1L583.2 732.9L583.5 733.3L583.9 732.2L584.2 732.9L584.6 728.8L584.9 735.3L585.2 730.7L585.6 728.7L585.9 730.9L586.2 731.2L586.6 733.7L586.9 731.0L587.2 733.2L587.6 730.9L587.9 736.7L588.3 733.6L588.6 736.2L588.9 730.7L589.3 733.8L589.6 730.8L589.9 733.6L590.3 733.8L590.6 729.6L591.0 730.4L591.3 730.3L591.6 729.7L592.0 731.1L592.3 730.6L592.6 729.7L593.0 732.6L593.3 733.4L593.6 729.9L594.0 731.3L594.3 732.3L594.7 731.9L595.0 731.0L595.3 733.7L595.7 733.8L596.0 733.5L596.3 731.8L596.7 735.8L597.0 735.4L597.4 731.3L597.7 731.9L598.0 734.3L598.4 730.5L598.7 732.7L599.0 732.1L599.4 730.6L599.7 731.5L600.0 729.0L600.4 730.8L600.7 728.1L601.1 736.0L601.4 734.5L601.7 734.0L602.1 732.2L602.4 733.4L602.7 733.9L603.1 733.3L603.4 733.1L603.8 729.6L604.1 732.0L604.4 730.1L604.8 728.8L605.1 728.8L605.4 731.7L605.8 732.8L606.1 728.2L606.4 734.0L606.8 733.4L607.1 729.8L607.5 729.6L607.8 730.2L608.1 732.2L608.5 729.5L608.8 728.1L609.1 730.7L609.5 726.1L609.8 730.2L610.2 732.1L610.5 730.4L610.8 731.3L611.2 730.7L611.5 731.1L611.8 729.9L612.2 728.0L612.5 729.1L612.8 729.4L613.2 731.9L613.5 732.6L613.9 730.3L614.2 728.0L614.5 728.1L614.9 729.1L615.2 732.1L615.5 730.1L615.9 729.4L616.2 728.1L616.6 731.3L616.9 730.2L617.2 729.6L617.6 730.0L617.9 733.1L618.2 729.7L618.6 733.3L618.9 732.5L619.2 730.3L619.6 732.0L619.9 730.2L620.3 729.0L620.6 730.1L620.9 729.1L621.3 731.9L621.6 731.0L621.9 732.2L622.3 732.8L622.6 725.5L623.0 732.1L623.3 728.2L623.6 732.1L624.0 730.2L624.3 732.2L624.6 734.7L625.0 729.1L625.3 732.7L625.6 732.4L626.0 729.1L626.3 733.9L626.7 732.9L627.0 732.0L627.3 731.7L627.7 739.1L628.0 732.5L628.3 730.0L628.7 731.7L629.0 732.9L629.4 732.9L629.7 733.5L630.0 731.8L630.4 734.8L630.7 733.0L631.0 731.4L631.4 732.4L631.7 733.2L632.0 735.5L632.4 734.9L632.7 733.3L633.1 734.0L633.4 734.3L633.7 737.7L634.1 732.8L634.4 734.7L634.7 735.2L635.1 732.1L635.4 734.1L635.8 734.0L636.1 732.8L636.4 734.7L636.8 735.5L637.1 735.6L637.4 733.2L637.8 733.8L638.1 737.8L638.4 731.3L638.8 733.7L639.1 734.9L639.5 733.4L639.8 734.3L640.1 733.4L640.5 734.4L640.8 735.3L641.1 732.4L641.5 733.1L641.8 732.6L642.1 731.9L642.5 732.5L642.8 730.4L643.2 733.8L643.5 735.5L643.8 735.5L644.2 734.6L644.5 730.3L644.8 734.9L645.2 730.6L645.5 731.8L645.9 735.3L646.2 729.7L646.5 733.3L646.9 732.1L647.2 731.2L647.5 729.8L647.9 732.2L648.2 730.4L648.5 733.2L648.9 733.5L649.2 728.5L649.6 730.0L649.9 730.3L650.2 728.6L650.6 728.6L650.9 730.9L651.2 730.2L651.6 727.4L651.9 729.4L652.3 731.3L652.6 727.9L652.9 728.4L653.3 733.1L653.6 732.5L653.9 726.7L654.3 727.1L654.6 730.3L654.9 727.2L655.3 728.9L655.6 728.4L656.0 730.2L656.3 724.1L656.6 724.6L657.0 726.3L657.3 730.5L657.6 728.1L658.0 724.9L658.3 729.0L658.7 729.3L659.0 727.2L659.3 726.9L659.7 728.2L660.0 729.5L660.3 727.2L660.7 727.7L661.0 726.3L661.3 725.4L661.7 724.1L662.0 726.1L662.4 724.7L662.7 724.5L663.0 726.5L663.4 725.2L663.7 725.6L664.0 720.2L664.4 724.0L664.7 721.1L665.1 720.0L665.4 719.2L665.7 722.6L666.1 720.8L666.4 716.6L666.7 714.4L667.1 715.2L667.4 712.4L667.7 714.7L668.1 705.7L668.4 701.9L668.8 701.8L669.1 698.3L669.4 693.8L669.8 689.7L670.1 686.3L670.4 673.6L670.8 664.9L671.1 652.7L671.5 646.9L671.8 636.8L672.1 621.4L672.5 611.1L672.8 593.3L673.1 581.1L673.5 561.2L673.8 540.0L674.1 523.0L674.5 502.1L674.8 483.1L675.2 470.5L675.5 454.9L675.8 441.7L676.2 421.2L676.5 408.0L676.8 395.1L677.2 393.7L677.5 387.5L677.9 383.6L678.2 392.7L678.5 405.2L678.9 417.5L679.2 449.0L679.5 474.3L679.9 501.5L680.2 530.2L680.5 563.7L680.9 589.2L681.2 613.6L681.6 627.5L681.9 647.0L682.2 666.2L682.6 674.3L682.9 686.0L683.2 692.1L683.6 706.7L683.9 710.2L684.3 713.0L684.6 715.6L684.9 716.8L685.3 718.7L685.6 722.3L685.9 720.8L686.3 725.7L686.6 723.1L686.9 723.0L687.3 728.0L687.6 725.7L688.0 727.5L688.3 726.1L688.6 722.9L689.0 728.7L689.3 725.4L689.6 730.4L690.0 725.6L690.3 725.2L690.7 729.7L691.0 730.1L691.3 729.7L691.7 727.4L692.0 731.6L692.3 727.3L692.7 729.3L693.0 728.9L693.3 729.8L693.7 732.3L694.0 729.6L694.4 732.0L694.7 732.3L695.0 727.9L695.4 729.0L695.7 730.6L696.0 730.3L696.4 732.1L696.7 727.9L697.1 733.0L697.4 733.1L697.7 731.5L698.1 729.2L698.4 731.9L698.7 730.9L699.1 733.1L699.4 731.9L699.7 733.5L700.1 731.3L700.4 734.9L700.8 727.9L701.1 730.4L701.4 733.2L701.8 729.5L702.1 733.7L702.4 730.1L702.8 732.6L703.1 730.7L703.5 731.7L703.8 732.8L704.1 732.3L704.5 731.8L704.8 736.6L705.1 732.6L705.5 730.8L705.8 734.3L706.1 734.2L706.5 734.9L706.8 736.0L707.2 730.9L707.5 734.7L707.8 734.8L708.2 732.7L708.5 733.2L708.8 727.1L709.2 731.6L709.5 736.1L709.9 729.4L710.2 731.7L710.5 733.3L710.9 733.8L711.2 735.8L711.5 729.5L711.9 732.8L712.2 734.3L712.5 730.3L712.9 732.7L713.2 736.3L713.6 735.2L713.9 733.7L714.2 727.9L714.6 732.5L714.9 733.5L715.2 732.2L715.6 732.6L715.9 738.5L716.3 732.3L716.6 730.9L716.9 733.2L717.3 732.1L717.6 732.1L717.9 732.5L718.3 734.1L718.6 733.1L718.9 730.4L719.3 732.4L719.6 733.5L720.0 731.8L720.3 734.8L720.6 734.1L721.0 730.8L721.3 733.2L721.6 736.3L722.0 735.5L722.3 732.5L722.7 734.3L723.0 731.3L723.3 729.9L723.7 733.6L724.0 733.0L724.3 733.5L724.7 732.5L725.0 733.2L725.3 731.6L725.7 733.4L726.0 734.1L726.4 732.4L726.7 734.0L727.0 729.2L727.4 731.0L727.7 735.2L728.0 735.7L728.4 732.9L728.7 732.2L729.1 730.0L729.4 733.1L729.7 733.8L730.1 729.6L730.4 733.4L730.7 733.3L731.1 733.2L731.4 730.2L731.7 733.3L732.1 729.5L732.4 735.1L732.8 732.5L733.1 730.1L733.4 734.7L733.8 734.4L734.1 731.0L734.4 736.3L734.8 730.3L735.1 732.7L735.5 734.3L735.8 727.8L736.1 734.0L736.5 731.9L736.8 732.0L737.1 730.0L737.5 732.6L737.8 729.9L738.1 730.1L738.5 731.1L738.8 729.6L739.2 734.9L739.5 729.4L739.8 730.4L740.2 731.2L740.5 731.8L740.8 733.3L741.2 733.3L741.5 731.2L741.9 731.0L742.2 731.8L742.5 733.2L742.9 733.0L743.2 730.7L743.5 727.7L743.9 735.6L744.2 733.4L744.5 732.0L744.9 732.2L745.2 730.5L745.6 729.6L745.9 730.8L746.2 731.0L746.6 730.2L746.9 728.6L747.2 730.7L747.6 732.4L747.9 730.3L748.3 731.3L748.6 727.3L748.9 730.8L749.3 730.9L749.6 728.8L749.9 727.8L750.3 731.8L750.6 729.5L750.9 731.9L751.3 730.1L751.6 732.1L752.0 730.2L752.3 727.9L752.6 730.6L753.0 730.1L753.3 731.9L753.6 729.8L754.0 729.8L754.3 732.2L754.7 732.7L755.0 731.9L755.3 732.3L755.7 731.2L756.0 731.7L756.3 731.9L756.7 730.9L757.0 730.2L757.3 730.2L757.7 734.5L758.0 729.8L758.4 729.3L758.7 728.9L759.0 729.5L759.4 729.9L759.7 727.2L760.0 725.4L760.4 729.7L760.7 725.9L761.0 729.4L761.4 729.1L761.7 730.9L762.1 731.8L762.4 729.1L762.7 727.2L763.1 725.8L763.4 726.4L763.7 727.9L764.1 723.6L764.4 727.6L764.8 727.2L765.1 728.3L765.4 726.1L765.8 726.8L766.1 724.9L766.4 725.1L766.8 722.2L767.1 725.7L767.4 728.1L767.8 725.0L768.1 725.0L768.5 721.8L768.8 726.2L769.1 721.2L769.5 723.7L769.8 721.6L770.1 718.7L770.5 721.8L770.8 718.8L771.2 718.0L771.5 717.4L771.8 715.0L772.2 712.8L772.5 712.8L772.8 709.1L773.2 708.0L773.5 704.2L773.8 699.9L774.2 698.8L774.5 696.2L774.9 694.0L775.2 693.0L775.5 682.8L775.9 682.8L776.2 673.1L776.5 671.1L776.9 667.4L777.2 658.3L777.6 653.9L777.9 653.1L778.2 647.3L778.6 641.2L778.9 633.8L779.2 635.3L779.6 624.2L779.9 617.3L780.2 618.6L780.6 611.5L780.9 605.1L781.3 605.7L781.6 600.6L781.9 600.1L782.3 598.3L782.6 595.9L782.9 605.8L783.3 612.2L783.6 620.3L784.0 633.1L784.3 649.8L784.6 659.0L785.0 671.3L785.3 683.0L785.6 690.8L786.0 694.8L786.3 705.9L786.6 711.7L787.0 715.7L787.3 720.5L787.7 720.6L788.0 723.5L788.3 726.7L788.7 724.2L789.0 729.2L789.3 730.1L789.7 728.9L790.0 731.6L790.4 730.2L790.7 727.3L791.0 731.6L791.4 730.4L791.7 730.9L792.0 730.7L792.4 733.3L792.7 732.0L793.0 729.8L793.4 732.3L793.7 733.0L794.1 730.4L794.4 731.1L794.7 731.4L795.1 731.1L795.4 733.1L795.7 734.5L796.1 736.2L796.4 735.0L796.8 734.8L797.1 735.2L797.4 735.6L797.8 732.6L798.1 734.6L798.4 734.0L798.8 733.3L799.1 732.8L799.4 732.8L799.8 733.3L800.1 731.6L800.5 734.9L800.8 734.0L801.1 734.4L801.5 734.9L801.8 735.7L802.1 733.4L802.5 734.3L802.8 731.7L803.2 730.7L803.5 731.3L803.8 737.7L804.2 731.7L804.5 735.9L804.8 737.8L805.2 734.4L805.5 738.3L805.8 738.8L806.2 737.2L806.5 739.9L806.9 736.8L807.2 734.5L807.5 736.8L807.9 735.1L808.2 733.7L808.5 733.8L808.9 740.3L809.2 735.3L809.6 736.3L809.9 735.3L810.2 736.8L810.6 736.2L810.9 735.9L811.2 734.6L811.6 734.3L811.9 735.6L812.2 737.5L812.6 740.7L812.9 738.9L813.3 740.4L813.6 738.1L813.9 737.1L814.3 735.0L814.6 737.4L814.9 733.6L815.3 736.9L815.6 740.4L816.0 738.1L816.3 739.6L816.6 737.0L817.0 735.3L817.3 736.9L817.6 737.1L818.0 739.9L818.3 741.3L818.6 736.6L819.0 737.3L819.3 737.7L819.7 737.4L820.0 735.9L820.3 738.3L820.7 738.8L821.0 738.9L821.3 736.1L821.7 738.1L822.0 735.3L822.4 739.9L822.7 736.6L823.0 737.9L823.4 737.7L823.7 737.5L824.0 736.7L824.4 735.5L824.7 741.6L825.0 739.1L825.4 739.1L825.7 742.3L826.1 738.6L826.4 739.7L826.7 738.8L827.1 740.9L827.4 739.7L827.7 739.4L828.1 738.5L828.4 739.4L828.8 741.0L829.1 735.4L829.4 738.8L829.8 738.4L830.1 738.6L830.4 735.7L830.8 740.4L831.1 737.7L831.4 738.8L831.8 738.4L832.1 736.4L832.5 738.5L832.8 736.2L833.1 737.7L833.5 738.8L833.8 739.4L834.1 739.5L834.5 739.2L834.8 743.2L835.2 740.3L835.5 737.5L835.8 738.5L836.2 738.5L836.5 739.3L836.8 738.6L837.2 738.2L837.5 742.5L837.8 739.8L838.2 739.2L838.5 739.4L838.9 739.5L839.2 742.2L839.5 740.7L839.9 741.8L840.2 734.6L840.5 740.5L840.9 741.8L841.2 743.4L841.6 740.1L841.9 737.2L842.2 741.1L842.6 739.1L842.9 737.1L843.2 739.1L843.6 742.0L843.9 742.3L844.2 741.5L844.6 738.5L844.9 744.6L845.3 738.4L845.6 740.3L845.9 738.0L846.3 742.7L846.6 741.2L846.9 742.0L847.3 740.7L847.6 740.4L848.0 740.9L848.3 737.4L848.6 742.3L849.0 742.2L849.3 740.0L849.6 740.7L850.0 741.3L850.3 743.4L850.6 741.5L851.0 740.9L851.3 740.0L851.7 738.4L852.0 739.9L852.3 741.1L852.7 740.5L853.0 741.1L853.3 742.3L853.7 741.8L854.0 741.5L854.4 742.2L854.7 741.4L855.0 741.1L855.4 742.0L855.7 738.3L856.0 743.3L856.4 739.1L856.7 742.7L857.0 741.3L857.4 743.2L857.7 741.4L858.1 739.8L858.4 743.2L858.7 741.8L859.1 741.7L859.4 741.6L859.7 743.2L860.1 742.9L860.4 742.0L860.8 739.0L861.1 741.0L861.4 741.8L861.8 744.7L862.1 742.3L862.4 741.6L862.8 743.7L863.1 741.6L863.4 741.7L863.8 742.1L864.1 739.4L864.5 743.4L864.8 742.6L865.1 741.4L865.5 740.0L865.8 742.3L866.1 744.3L866.5 740.9L866.8 740.3L867.2 742.7L867.5 739.4L867.8 738.4L868.2 741.4L868.5 741.0L868.8 741.7L869.2 741.2L869.5 742.7L869.8 741.8L870.2 741.2L870.5 741.5L870.9 743.3L871.2 743.8L871.5 743.8L871.9 743.5L872.2 736.9L872.5 740.7L872.9 741.8L873.2 742.7L873.5 739.7L873.9 744.7L874.2 742.9L874.6 741.4L874.9 742.7L875.2 741.9L875.6 741.2L875.9 743.3L876.2 741.8L876.6 740.2L876.9 741.5L877.3 742.3L877.6 740.8L877.9 744.6L878.3 740.8L878.6 745.5L878.9 744.1L879.3 741.1L879.6 742.8L879.9 744.6L880.3 742.3L880.6 740.7L881.0 742.9L881.3 745.9L881.6 740.2L882.0 743.6L882.3 742.7L882.6 742.5L883.0 742.1L883.3 742.2L883.7 744.5L884.0 743.7L884.3 741.1L884.7 745.3L885.0 740.7L885.3 743.9L885.7 743.1L886.0 744.8L886.3 743.4L886.7 744.6L887.0 742.8L887.4 744.5L887.7 743.4L888.0 746.4L888.4 741.8L888.7 744.9L889.0 743.7L889.4 743.2L889.7 742.0L890.1 743.7L890.4 740.5L890.7 740.7L891.1 744.1L891.4 740.4L891.7 745.3L892.1 742.5L892.4 743.4L892.7 743.1L893.1 743.7L893.4 742.6L893.8 742.4L894.1 742.8L894.4 744.8L894.8 744.9L895.1 745.1L895.4 743.7L895.8 742.8L896.1 740.3L896.5 744.1L896.8 744.5L897.1 742.5L897.5 744.4L897.8 745.2L898.1 743.3L898.5 744.9L898.8 743.6L899.1 740.3L899.5 742.4L899.8 742.5L900.2 744.0L900.5 741.8L900.8 742.5L901.2 741.6L901.5 743.1L901.8 743.3L902.2 744.8L902.5 744.5L902.9 743.5L903.2 743.6L903.5 743.4L903.9 743.4L904.2 745.8L904.5 739.2L904.9 743.0L905.2 743.8L905.5 745.1L905.9 741.5L906.2 743.9L906.6 744.7L906.9 742.6L907.2 740.2L907.6 742.7L907.9 741.4L908.2 744.4L908.6 742.0L908.9 746.3L909.3 743.6L909.6 742.1L909.9 742.6L910.3 741.6L910.6 744.0L910.9 745.8L911.3 743.1L911.6 744.9L911.9 741.9L912.3 743.9L912.6 747.2L913.0 741.2L913.3 745.5L913.6 745.4L914.0 740.4L914.3 741.2L914.6 741.9L915.0 745.1L915.3 742.8L915.7 743.2L916.0 744.7L916.3 743.7L916.7 743.9L917.0 743.0L917.3 745.4L917.7 742.3L918.0 746.3L918.3 743.0L918.7 742.3L919.0 744.6L919.4 744.3L919.7 740.4L920.0 744.0L920.4 741.4L920.7 742.3L921.0 744.9L921.4 742.3L921.7 744.2L922.1 743.1L922.4 746.8L922.7 743.5L923.1 741.8L923.4 741.9L923.7 742.3L924.1 743.9L924.4 743.7L924.7 745.3L925.1 744.0L925.4 744.0L925.8 744.3L926.1 743.6L926.4 744.3L926.8 745.1L927.1 745.1L927.4 742.9L927.8 741.0L928.1 742.5L928.5 744.3L928.8 739.8L929.1 743.1L929.5 744.6L929.8 743.0L930.1 742.1L930.5 746.7L930.8 746.1L931.1 743.5L931.5 746.1L931.8 746.0L932.2 742.1L932.5 748.3L932.8 742.5L933.2 743.6L933.5 742.2L933.8 744.1L934.2 741.9L934.5 744.0L934.9 745.8L935.2 744.4L935.5 743.6L935.9 746.5L936.2 742.6L936.5 745.6L936.9 743.6L937.2 744.4L937.5 744.1L937.9 744.3L938.2 744.0L938.6 742.9L938.9 743.2L939.2 744.8L939.6 744.0L939.9 742.3L940.2 743.0L940.6 743.1L940.9 744.1L941.3 744.5L941.6 744.3L941.9 743.1L942.3 744.2L942.6 742.0L942.9 739.6L943.3 744.1L943.6 741.6L943.9 742.7L944.3 742.3L944.6 745.3L945.0 742.3L945.3 744.7L945.6 743.5L946.0 742.3L946.3 741.8L946.6 745.0L947.0 744.9L947.3 745.6L947.7 747.3L948.0 744.8L948.3 744.8L948.7 744.1L949.0 744.5L949.3 743.8L949.7 742.9L950.0 747.6L950.3 741.4L950.7 744.8L951.0 745.1L951.4 744.6L951.7 742.8L952.0 744.1L952.4 743.6L952.7 742.7L953.0 744.3L953.4 743.7L953.7 743.5L954.1 745.5L954.4 742.7L954.7 745.1L955.1 743.4L955.4 745.1L955.7 744.5L956.1 744.8L956.4 742.8L956.7 743.2L957.1 743.1L957.4 744.7L957.8 745.6L958.1 746.2L958.4 743.6L958.8 744.6L959.1 741.8L959.4 740.9L959.8 743.1L960.1 743.4L960.5 742.0L960.8 741.6L961.1 745.3L961.5 743.2L961.8 741.7L962.1 748.2L962.5 744.7L962.8 743.9L963.1 745.5L963.5 743.2L963.8 747.0L964.2 742.0L964.5 742.3L964.8 744.2L965.2 743.2L965.5 746.7L965.8 741.9L966.2 743.3L966.5 744.8L966.9 745.3L967.2 746.0L967.5 745.0L967.9 748.0L968.2 743.7L968.5 744.7L968.9 745.8L969.2 743.9L969.5 744.0L969.9 743.7L970.2 743.4L970.6 742.6L970.9 743.5L971.2 741.9L971.6 745.0L971.9 741.9L972.2 747.7L972.6 747.1L972.9 746.2L973.3 744.1L973.6 743.5L973.9 746.4L974.3 744.7L974.6 745.3L974.9 743.2L975.3 746.1L975.6 743.1L975.9 744.6L976.3 741.6L976.6 743.3L977.0 745.2L977.3 743.7L977.6 743.7L978.0 745.7L978.3 744.3L978.6 746.4L979.0 740.5L979.3 745.3L979.7 745.2L980.0 741.9L980.3 742.3L980.7 745.8L981.0 742.7L981.3 743.4L981.7 745.3L982.0 743.9L982.3 745.2L982.7 743.0L983.0 744.9L983.4 746.1L983.7 744.9L984.0 740.9L984.4 745.4L984.7 744.5L985.0 742.9L985.4 746.6L985.7 741.6L986.0 747.4L986.4 743.4L986.7 746.9L987.1 744.3L987.4 742.3L987.7 744.5L988.1 744.9L988.4 745.3L988.7 746.1L989.1 742.9L989.4 745.2L989.8 745.6L990.1 744.0L990.4 742.9L990.8 742.9L991.1 745.6L991.4 745.7L991.8 743.1L992.1 742.2L992.4 746.4L992.8 741.9L993.1 744.6L993.5 743.1L993.8 741.6L994.1 744.6L994.5 744.1L994.8 746.7L995.1 748.0L995.5 744.1L995.8 746.0L996.2 746.1L996.5 743.5L996.8 743.0L997.2 747.0L997.5 743.8L997.8 744.3L998.2 743.9L998.5 744.2L998.8 743.4L999.2 745.6L999.5 746.4L999.9 743.8L1000.2 742.2L1000.5 744.5L1000.9 742.0L1001.2 743.4L1001.5 746.4L1001.9 748.1L1002.2 745.0L1002.6 742.7L1002.9 745.6L1003.2 740.8L1003.6 743.3L1003.9 746.8L1004.2 745.6L1004.6 742.2L1004.9 741.7L1005.2 745.8L1005.6 744.3L1005.9 743.4L1006.3 745.0L1006.6 743.5L1006.9 741.3L1007.3 745.7L1007.6 743.3L1007.9 742.8L1008.3 742.2L1008.6 744.8L1009.0 743.1L1009.3 745.4L1009.6 744.0L1010.0 746.1L1010.3 743.8L1010.6 743.3L1011.0 741.2L1011.3 742.6L1011.6 745.5L1012.0 749.3L1012.3 742.4L1012.7 742.7L1013.0 744.9L1013.3 745.1L1013.7 743.3L1014.0 744.5L1014.3 741.8L1014.7 743.9L1015.0 745.8L1015.4 747.0L1015.7 744.1L1016.0 744.0L1016.4 745.1L1016.7 746.2L1017.0 745.2L1017.4 743.2L1017.7 745.0L1018.0 745.9L1018.4 743.2L1018.7 742.2L1019.1 745.2L1019.4 745.0L1019.7 745.9L1020.1 744.5L1020.4 743.4L1020.7 743.7L1021.1 742.7L1021.4 742.9L1021.8 743.5L1022.1 743.6L1022.4 746.2L1022.8 742.4L1023.1 744.3L1023.4 743.4L1023.8 746.8L1024.1 744.8L1024.4 743.8L1024.8 745.7L1025.1 744.5L1025.5 743.6L1025.8 746.8L1026.1 745.5L1026.5 747.2L1026.8 746.2L1027.1 745.6L1027.5 744.6L1027.8 742.7L1028.2 745.5L1028.5 744.5L1028.8 745.5L1029.2 744.4L1029.5 743.3L1029.8 742.8L1030.2 745.5L1030.5 746.5L1030.8 743.9L1031.2 745.1L1031.5 746.6L1031.9 743.1L1032.2 743.9L1032.5 742.6L1032.9 746.3L1033.2 744.8L1033.5 743.7L1033.9 741.7L1034.2 744.1L1034.6 746.0L1034.9 743.9L1035.2 743.7L1035.6 745.4L1035.9 742.4L1036.2 744.5L1036.6 745.4L1036.9 743.2L1037.2 743.1L1037.6 744.8L1037.9 744.2L1038.3 744.0L1038.6 744.7L1038.9 744.8L1039.3 742.9L1039.6 743.3L1039.9 745.1L1040.3 746.2L1040.6 746.6L1041.0 743.1L1041.3 746.2L1041.6 745.6L1042.0 744.4L1042.3 745.2L1042.6 745.7L1043.0 747.3L1043.3 742.7L1043.6 745.4L1044.0 744.2L1044.3 744.1L1044.7 746.2L1045.0 745.7L1045.3 742.8L1045.7 744.0L1046.0 744.8L1046.3 742.2L1046.7 745.8L1047.0 744.3L1047.4 744.7L1047.7 744.9L1048.0 747.3L1048.4 744.5L1048.7 743.8L1049.0 747.2L1049.4 743.6L1049.7 743.6L1050.0 742.2L1050.4 746.1L1050.7 744.8L1051.1 745.2L1051.4 744.7L1051.7 744.2L1052.1 743.2L1052.4 743.2L1052.7 745.1L1053.1 744.6L1053.4 747.0L1053.8 743.2L1054.1 743.6L1054.4 742.8L1054.8 746.6L1055.1 742.4L1055.4 745.6L1055.8 746.7L1056.1 744.2L1056.4 745.6L1056.8 741.0L1057.1 743.8L1057.5 741.8L1057.8 744.7L1058.1 744.4L1058.5 743.2L1058.8 745.9L1059.1 745.0L1059.5 743.6L1059.8 743.6L1060.2 742.1L1060.5 744.1L1060.8 747.8L1061.2 743.3L1061.5 745.1L1061.8 743.5L1062.2 745.7L1062.5 745.1L1062.8 744.0L1063.2 741.6L1063.5 743.6L1063.9 746.3L1064.2 744.0L1064.5 745.4L1064.9 743.6L1065.2 741.4L1065.5 745.1L1065.9 744.9L1066.2 743.5L1066.6 743.8L1066.9 744.9L1067.2 743.4L1067.6 744.9L1067.9 744.1L1068.2 740.6L1068.6 744.2L1068.9 743.4L1069.2 743.0L1069.6 745.0L1069.9 743.6L1070.3 745.2L1070.6 746.1L1070.9 744.6L1071.3 741.9L1071.6 743.2L1071.9 745.8L1072.3 743.9L1072.6 743.0L1073.0 744.2L1073.3 745.1L1073.6 744.7L1074.0 745.3L1074.3 743.0L1074.6 743.9L1075.0 743.9L1075.3 744.3L1075.6 740.9L1076.0 743.9L1076.3 742.1L1076.7 746.5L1077.0 746.8L1077.3 746.9L1077.7 745.5L1078.0 743.5L1078.3 745.8L1078.7 743.9L1079.0 745.2L1079.4 742.8L1079.7 743.3L1080.0 745.0L1080.4 747.0L1080.7 744.2L1081.0 747.8L1081.4 748.6L1081.7 742.1L1082.0 744.1L1082.4 742.6L1082.7 743.9L1083.1 743.3L1083.4 744.0L1083.7 745.7L1084.1 745.6L1084.4 744.5L1084.7 744.1L1085.1 744.3L1085.4 744.3L1085.8 745.0L1086.1 744.1L1086.4 744.9L1086.8 742.0L1087.1 745.3L1087.4 746.8L1087.8 744.3L1088.1 741.8L1088.4 746.2L1088.8 743.5L1089.1 739.2L1089.5 743.6L1089.8 745.0L1090.1 744.6L1090.5 746.0L1090.8 745.0L1091.1 744.1L1091.5 740.8L1091.8 742.1L1092.2 744.2L1092.5 745.0L1092.8 742.3L1093.2 742.9L1093.5 744.6L1093.8 740.8L1094.2 740.7L1094.5 743.5L1094.8 744.3L1095.2 743.1L1095.5 740.1L1095.9 743.9L1096.2 741.7L1096.5 744.9L1096.9 743.6L1097.2 744.2L1097.5 744.8L1097.9 742.9L1098.2 745.1L1098.6 745.7L1098.9 744.4L1099.2 745.9L1099.6 742.7L1099.9 745.2L1100.2 744.1L1100.6 742.0L1100.9 743.5L1101.2 742.7L1101.6 742.7L1101.9 743.7L1102.3 745.2L1102.6 742.9L1102.9 743.6L1103.3 741.0L1103.6 743.5L1103.9 745.1L1104.3 744.5L1104.6 743.9L1104.9 742.1L1105.3 741.3L1105.6 742.6L1106.0 740.4L1106.3 740.4L1106.6 743.9L1107.0 740.6L1107.3 744.9L1107.6 738.8L1108.0 740.6L1108.3 736.5L1108.7 737.5L1109.0 733.9L1109.3 734.4L1109.7 732.6L1110.0 730.5L1110.3 730.7L1110.7 731.0L1111.0 725.5L1111.3 726.6L1111.7 723.4L1112.0 721.4L1112.4 723.8L1112.7 713.8L1113.0 714.7L1113.4 710.6L1113.7 711.6L1114.0 709.8L1114.4 715.6L1114.7 706.9L1115.1 707.8L1115.4 704.8L1115.7 699.3L1116.1 699.1L1116.4 699.5L1116.7 694.5L1117.1 692.6L1117.4 691.2L1117.7 685.3L1118.1 684.8L1118.4 685.3L1118.8 684.0L1119.1 679.3L1119.4 679.0L1119.8 677.8L1120.1 676.4L1120.4 676.8L1120.8 674.3L1121.1 673.3L1121.5 670.4L1121.8 673.8L1122.1 679.7L1122.5 679.1L1122.8 686.6L1123.1 688.6L1123.5 692.4L1123.8 699.5L1124.1 701.1L1124.5 705.0L1124.8 709.5L1125.2 714.9L1125.5 723.9L1125.8 718.5L1126.2 725.9L1126.5 728.9L1126.8 734.3L1127.2 734.9L1127.5 734.2L1127.9 743.5L1128.2 740.2L1128.5 742.3L1128.9 740.4L1129.2 741.1L1129.5 742.2L1129.9 744.6L1130.2 744.7L1130.5 742.4L1130.9 744.2L1131.2 742.8L1131.6 743.7L1131.9 743.8L1132.2 744.5L1132.6 742.5L1132.9 743.3L1133.2 743.9L1133.6 743.7L1133.9 742.3L1134.3 746.4L1134.6 742.9L1134.9 744.8L1135.3 743.9L1135.6 745.6L1135.9 740.1L1136.3 746.9L1136.6 743.3L1136.9 741.6L1137.3 743.9L1137.6 747.3L1138.0 744.5L1138.3 741.7L1138.6 742.9L1139.0 745.8L1139.3 741.4L1139.6 743.4L1140.0 743.2L1140.3 747.2L1140.7 743.2L1141.0 745.8L1141.3 742.6L1141.7 742.4L1142.0 745.3L1142.3 744.7L1142.7 740.9L1143.0 744.7L1143.3 744.7L1143.7 742.7L1144.0 744.0L1144.4 744.1L1144.7 742.9L1145.0 742.7L1145.4 742.6L1145.7 743.3L1146.0 741.6L1146.4 743.6L1146.7 741.3L1147.1 743.8L1147.4 743.6L1147.7 742.0L1148.1 745.1L1148.4 746.8L1148.7 745.8L1149.1 741.5L1149.4 745.7L1149.7 744.1L1150.1 743.6L1150.4 742.7L1150.8 743.7L1151.1 745.9L1151.4 744.6L1151.8 743.0L1152.1 742.6L1152.4 743.0L1152.8 744.7L1153.1 746.7L1153.5 742.0L1153.8 743.7L1154.1 743.1L1154.5 742.5L1154.8 744.4L1155.1 744.6L1155.5 741.5L1155.8 742.1L1156.1 745.6L1156.5 744.2L1156.8 744.6L1157.2 742.9L1157.5 743.1L1157.8 744.5L1158.2 743.0L1158.5 742.0L1158.8 743.8L1159.2 745.2L1159.5 742.1L1159.9 745.5L1160.2 744.9L1160.5 742.4L1160.9 743.8L1161.2 743.7L1161.5 744.8L1161.9 744.9L1162.2 741.7L1162.5 741.6L1162.9 745.4L1163.2 744.0L1163.6 744.5L1163.9 744.3L1164.2 746.3L1164.6 741.9L1164.9 745.6L1165.2 742.5L1165.6 745.0L1165.9 746.0L1166.3 741.6L1166.6 744.5L1166.9 743.4L1167.3 743.4L1167.6 743.9L1167.9 742.2L1168.3 742.3L1168.6 744.9L1168.9 745.2L1169.3 743.0L1169.6 741.6L1170.0 747.6L1170.3 745.6L1170.6 744.5L1171.0 742.3L1171.3 743.0L1171.6 744.3L1172.0 742.4L1172.3 746.5L1172.7 744.1L1173.0 744.5L1173.3 742.3L1173.7 742.5L1174.0 742.7L1174.3 744.4L1174.7 743.5L1175.0 743.5L1175.3 744.5L1175.7 744.3L1176.0 746.3L1176.4 743.7L1176.7 742.4L1177.0 744.0L1177.4 746.3L1177.7 743.1L1178.0 744.1L1178.4 743.4L1178.7 744.6L1179.1 744.4L1179.4 742.7L1179.7 743.6L1180.1 745.5L1180.4 745.7L1180.7 745.5L1181.1 745.4L1181.4 743.5L1181.7 743.5L1182.1 745.5L1182.4 742.2L1182.8 743.9L1183.1 741.1L1183.4 743.4L1183.8 742.9L1184.1 742.1L1184.4 745.0L1184.8 742.9L1185.1 743.5L1185.5 743.7L1185.8 742.9L1186.1 746.3L1186.5 743.3L1186.8 744.4L1187.1 742.0L1187.5 743.3L1187.8 743.6L1188.1 743.6L1188.5 743.2L1188.8 744.3L1189.2 746.6L1189.5 743.9L1189.8 743.9L1190.2 743.5L1190.5 748.1L1190.8 746.7L1191.2 745.0L1191.5 745.2L1191.9 743.0L1192.2 743.9L1192.5 744.5L1192.9 744.3L1193.2 742.8L1193.5 742.9L1193.9 744.9L1194.2 744.6L1194.5 740.8L1194.9 744.3L1195.2 746.1L1195.6 743.1L1195.9 744.5L1196.2 741.8L1196.6 745.4L1196.9 742.4L1197.2 742.2L1197.6 743.6L1197.9 747.9L1198.3 743.2L1198.6 742.1L1198.9 744.9L1199.3 744.5L1199.6 746.7L1199.9 742.1L1200.3 741.6L1200.6 743.6L1200.9 744.7L1201.3 744.7L1201.6 745.8L1202.0 741.8L1202.3 742.8L1202.6 743.9L1203.0 745.4L1203.3 744.8L1203.6 743.4L1204.0 742.5L1204.3 745.5L1204.7 745.6L1205.0 748.3L1205.3 743.8L1205.7 746.6L1206.0 742.1L1206.3 743.2L1206.7 743.0L1207.0 743.3L1207.3 742.6L1207.7 743.2L1208.0 743.9L1208.4 743.3L1208.7 745.0L1209.0 743.9L1209.4 744.0L1209.7 746.3L1210.0 744.5L1210.4 744.2L1210.7 743.9L1211.1 744.0L1211.4 744.8L1211.7 742.6L1212.1 745.7L1212.4 746.4L1212.7 745.7L1213.1 743.1L1213.4 741.3L1213.7 743.2L1214.1 744.1L1214.4 745.1L1214.8 743.5L1215.1 743.3L1215.4 746.2L1215.8 742.7L1216.1 745.4L1216.4 745.2L1216.8 741.6L1217.1 744.2L1217.4 742.8L1217.8 742.2L1218.1 740.8L1218.5 741.2L1218.8 744.3L1219.1 743.0L1219.5 744.1L1219.8 741.9L1220.1 743.1L1220.5 743.2L1220.8 741.1L1221.2 740.9L1221.5 744.2L1221.8 743.8L1222.2 742.0L1222.5 743.3L1222.8 744.5L1223.2 746.4L1223.5 742.1L1223.8 744.4L1224.2 746.8L1224.5 743.5L1224.9 745.7L1225.2 739.3L1225.5 745.7L1225.9 743.3L1226.2 740.4L1226.5 744.6L1226.9 745.0L1227.2 745.2L1227.6 745.2L1227.9 743.2L1228.2 742.1L1228.6 742.5L1228.9 743.2L1229.2 743.8L1229.6 742.4L1229.9 743.2L1230.2 744.5L1230.6 743.7L1230.9 746.8L1231.3 746.5L1231.6 741.3L1231.9 742.2L1232.3 741.0L1232.6 741.2L1232.9 743.9L1233.3 741.4L1233.6 741.3L1234.0 742.6L1234.3 744.2L1234.6 742.4L1235.0 742.4L1235.3 744.4L1235.6 743.7L1236.0 743.6L1236.3 744.4L1236.6 741.2L1237.0 743.2L1237.3 741.8L1237.7 744.5L1238.0 744.1L1238.3 741.1L1238.7 744.9L1239.0 740.9L1239.3 744.6L1239.7 743.1L1240.0 741.3L1240.4 740.9L1240.7 742.2L1241.0 742.6L1241.4 741.5L1241.7 743.6L1242.0 740.4L1242.4 742.6L1242.7 742.6L1243.0 739.6L1243.4 743.1L1243.7 740.5L1244.1 738.5L1244.4 741.6L1244.7 742.2L1245.1 744.0L1245.4 741.7L1245.7 744.9L1246.1 744.8L1246.4 744.2L1246.8 744.6L1247.1 743.0L1247.4 741.5L1247.8 743.5L1248.1 744.0L1248.4 742.8L1248.8 742.0L1249.1 739.9L1249.4 743.5L1249.8 742.9L1250.1 740.2L1250.5 742.5L1250.8 743.5L1251.1 742.1L1251.5 743.6L1251.8 743.5L1252.1 739.9L1252.5 741.8L1252.8 743.1L1253.2 743.7L1253.5 744.5L1253.8 739.1L1254.2 742.1L1254.5 743.4L1254.8 744.2L1255.2 744.9L1255.5 740.7L1255.8 741.6L1256.2 740.4L1256.5 743.5L1256.9 740.0L1257.2 744.0L1257.5 743.6L1257.9 742.9L1258.2 738.6L1258.5 741.0L1258.9 743.3L1259.2 739.8L1259.6 741.7L1259.9 741.9L1260.2 743.5L1260.6 742.5L1260.9 742.5L1261.2 741.3L1261.6 742.0L1261.9 741.8L1262.2 743.1L1262.6 741.7L1262.9 743.6L1263.3 739.2L1263.6 743.9L1263.9 741.6L1264.3 743.7L1264.6 742.0L1264.9 743.3L1265.3 744.3L1265.6 741.0L1266.0 742.0L1266.3 741.6L1266.6 742.2L1267.0 739.2L1267.3 741.5L1267.6 741.4L1268.0 740.5L1268.3 741.5L1268.6 739.2L1269.0 744.0L1269.3 742.5L1269.7 744.8L1270.0 740.3L1270.3 739.8L1270.7 742.2L1271.0 739.0L1271.3 742.0L1271.7 740.5L1272.0 741.1L1272.4 742.1L1272.7 741.7L1273.0 744.7L1273.4 742.6L1273.7 739.5L1274.0 743.2L1274.4 739.4L1274.7 741.7L1275.0 739.5L1275.4 740.2L1275.7 743.7L1276.1 740.6L1276.4 740.5L1276.7 740.6L1277.1 741.0L1277.4 743.8L1277.7 739.5L1278.1 739.4L1278.4 742.4L1278.8 738.8L1279.1 740.8L1279.4 743.3L1279.8 741.4L1280.1 740.6L1280.4 740.2L1280.8 739.9L1281.1 740.4L1281.4 741.6L1281.8 743.4L1282.1 742.9L1282.5 740.4L1282.8 740.1L1283.1 742.4L1283.5 738.3L1283.8 740.5L1284.1 740.7L1284.5 739.4L1284.8 739.6L1285.2 741.8L1285.5 738.5L1285.8 739.7L1286.2 740.1L1286.5 741.3L1286.8 738.9L1287.2 742.9L1287.5 740.6L1287.8 740.7L1288.2 740.5L1288.5 740.0L1288.9 739.5L1289.2 743.0L1289.5 741.4L1289.9 740.9L1290.2 742.7L1290.5 739.9L1290.9 742.1L1291.2 741.0L1291.6 739.5L1291.9 742.2L1292.2 738.5L1292.6 742.0L1292.9 739.5L1293.2 741.6L1293.6 743.2L1293.9 741.9L1294.2 739.9L1294.6 740.8L1294.9 740.3L1295.3 738.9L1295.6 739.0L1295.9 740.9L1296.3 741.7L1296.6 737.9L1296.9 740.7L1297.3 741.6L1297.6 741.0L1298.0 739.1L1298.3 742.5L1298.6 738.7L1299.0 741.8L1299.3 743.4L1299.6 737.3L1300.0 741.1L1300.3 741.2L1300.6 741.1L1301.0 739.4L1301.3 740.1L1301.7 738.3L1302.0 740.9L1302.3 741.5L1302.7 739.5L1303.0 739.1L1303.3 739.8L1303.7 740.6L1304.0 740.7L1304.4 740.4L1304.7 740.7L1305.0 738.4L1305.4 736.0L1305.7 741.5L1306.0 742.9L1306.4 738.1L1306.7 739.4L1307.0 741.0L1307.4 742.0L1307.7 741.5L1308.1 742.5L1308.4 740.3L1308.7 741.1L1309.1 741.1L1309.4 739.7L1309.7 742.4L1310.1 741.4L1310.4 742.0L1310.8 739.7L1311.1 742.0L1311.4 738.6L1311.8 741.0L1312.1 736.0L1312.4 738.6L1312.8 741.5L1313.1 739.5L1313.4 740.5L1313.8 737.5L1314.1 742.8L1314.5 741.2L1314.8 740.1L1315.1 740.9L1315.5 740.7L1315.8 742.5L1316.1 740.5L1316.5 737.7L1316.8 739.7L1317.2 742.2L1317.5 741.0L1317.8 739.3L1318.2 741.0L1318.5 740.2L1318.8 741.0L1319.2 737.3L1319.5 738.4L1319.8 741.0L1320.2 739.5L1320.5 740.4L1320.9 743.1L1321.2 739.2L1321.5 740.1L1321.9 738.7L1322.2 738.5L1322.5 739.4L1322.9 737.0L1323.2 735.8L1323.6 741.5L1323.9 738.9L1324.2 740.9L1324.6 739.0L1324.9 738.9L1325.2 739.6L1325.6 739.4L1325.9 735.9L1326.2 739.7L1326.6 735.4L1326.9 736.3L1327.3 739.2L1327.6 733.6L1327.9 735.1L1328.3 730.1L1328.6 730.4L1328.9 727.9L1329.3 727.0L1329.6 723.1L1329.9 721.2L1330.3 721.9L1330.6 716.4L1331.0 715.9L1331.3 716.9L1331.6 712.4L1332.0 709.9L1332.3 707.3L1332.6 707.7L1333.0 704.5L1333.3 703.4L1333.7 700.5L1334.0 702.4L1334.3 695.7L1334.7 690.4L1335.0 692.5L1335.3 690.2L1335.7 688.6L1336.0 683.0L1336.3 686.9L1336.7 682.7L1337.0 681.1L1337.4 676.4L1337.7 679.4L1338.0 677.0L1338.4 679.0L1338.7 674.4L1339.0 673.9L1339.4 678.2L1339.7 677.7L1340.1 682.4L1340.4 681.4L1340.7 685.7L1341.1 687.9L1341.4 690.9L1341.7 692.6L1342.1 694.8L1342.4 699.1L1342.7 700.9L1343.1 705.2L1343.4 707.1L1343.8 705.9L1344.1 712.9L1344.4 718.2L1344.8 718.6L1345.1 721.5L1345.4 723.5L1345.8 723.9L1346.1 724.4L1346.5 730.2L1346.8 732.5L1347.1 733.3L1347.5 734.7L1347.8 736.2L1348.1 736.9L1348.5 737.8L1348.8 737.7L1349.1 738.5L1349.5 736.6L1349.8 737.3L1350.2 739.5L1350.5 738.1L1350.8 734.7L1351.2 739.1L1351.5 735.1L1351.8 742.2L1352.2 740.2L1352.5 740.2L1352.9 738.0L1353.2 737.2L1353.5 738.8L1353.9 739.2L1354.2 737.9L1354.5 739.4L1354.9 740.3L1355.2 740.2L1355.5 737.5L1355.9 735.6L1356.2 739.2L1356.6 738.1L1356.9 739.9L1357.2 741.9L1357.6 741.9L1357.9 739.7L1358.2 741.0L1358.6 741.9L1358.9 739.3L1359.3 739.6L1359.6 740.6L1359.9 739.1L1360.3 738.4L1360.6 737.9L1360.9 739.2L1361.3 738.2L1361.6 740.5L1361.9 738.6L1362.3 741.6L1362.6 741.1L1363.0 737.1L1363.3 740.9L1363.6 738.5L1364.0 741.4L1364.3 740.0L1364.6 739.1L1365.0 740.2L1365.3 738.2L1365.7 739.7L1366.0 739.8L1366.3 738.9L1366.7 739.7L1367.0 737.5L1367.3 740.0L1367.7 737.1L1368.0 740.1L1368.3 739.9L1368.7 740.2L1369.0 738.2L1369.4 744.0L1369.7 738.7L1370.0 739.3L1370.4 737.8L1370.7 741.4L1371.0 738.3L1371.4 740.7L1371.7 737.5L1372.1 739.6L1372.4 738.4L1372.7 740.6L1373.1 738.6L1373.4 737.6L1373.7 739.8L1374.1 737.1L1374.4 737.5L1374.7 740.3L1375.1 736.0L1375.4 740.2L1375.8 738.3L1376.1 737.5L1376.4 739.4L1376.8 740.0L1377.1 738.0L1377.4 738.7L1377.8 740.3L1378.1 740.2L1378.5 738.9L1378.8 737.7L1379.1 737.4L1379.5 738.0L1379.8 740.0L1380.1 739.9L1380.5 739.4" stroke="#0000ff"/>
</g>
<rect x="123.1" y="28.8" width="1263.1" height="1016.9" fill="none" stroke="#000" stroke-width="4.1"/>
<g stroke="#000" stroke-width="3.9" fill="none">
<line x1="207.3" y1="1045.7" x2="207.3" y2="1065.3"/><line x1="375.7" y1="1045.7" x2="375.7" y2="1065.3"/><line x1="544.1" y1="1045.7" x2="544.1" y2="1065.3"/><line x1="712.5" y1="1045.7" x2="712.5" y2="1065.3"/><line x1="881.0" y1="1045.7" x2="881.0" y2="1065.3"/><line x1="1049.4" y1="1045.7" x2="1049.4" y2="1065.3"/><line x1="1217.8" y1="1045.7" x2="1217.8" y2="1065.3"/><line x1="1386.2" y1="1045.7" x2="1386.2" y2="1065.3"/><line x1="123.1" y1="1045.7" x2="123.1" y2="1055.2"/><line x1="291.5" y1="1045.7" x2="291.5" y2="1055.2"/><line x1="459.9" y1="1045.7" x2="459.9" y2="1055.2"/><line x1="628.3" y1="1045.7" x2="628.3" y2="1055.2"/><line x1="796.8" y1="1045.7" x2="796.8" y2="1055.2"/><line x1="965.2" y1="1045.7" x2="965.2" y2="1055.2"/><line x1="1133.6" y1="1045.7" x2="1133.6" y2="1055.2"/><line x1="1302.0" y1="1045.7" x2="1302.0" y2="1055.2"/>
</g>
<g class="b">
<text x="207.3" y="1132.4" text-anchor="middle">10</text><text x="375.7" y="1132.4" text-anchor="middle">20</text><text x="544.1" y="1132.4" text-anchor="middle">30</text><text x="712.5" y="1132.4" text-anchor="middle">40</text><text x="881.0" y="1132.4" text-anchor="middle">50</text><text x="1049.4" y="1132.4" text-anchor="middle">60</text><text x="1217.8" y="1132.4" text-anchor="middle">70</text><text x="1386.2" y="1132.4" text-anchor="middle">80</text>
<text x="754.2" y="1229.8" text-anchor="middle">2 Theta (°)</text>
<text transform="translate(76.6 538.0) rotate(-90)" text-anchor="middle">Intensity (a.u.)</text>
</g>
<g fill="none" stroke-width="5.6" stroke-linecap="round">
<path d="M1011.8 70.4H1162" stroke="#0000ff"/>
<path d="M1012.8 148.4H1162.5" stroke="#ff0000"/>
</g>
<text x="1178.9" y="92.8">Ag/AC</text>
<text x="1178.9" y="170.4">AC</text>
<text x="189.6" y="906.8">JCPDS:04-0783</text>
</svg>
</body>
</html>
